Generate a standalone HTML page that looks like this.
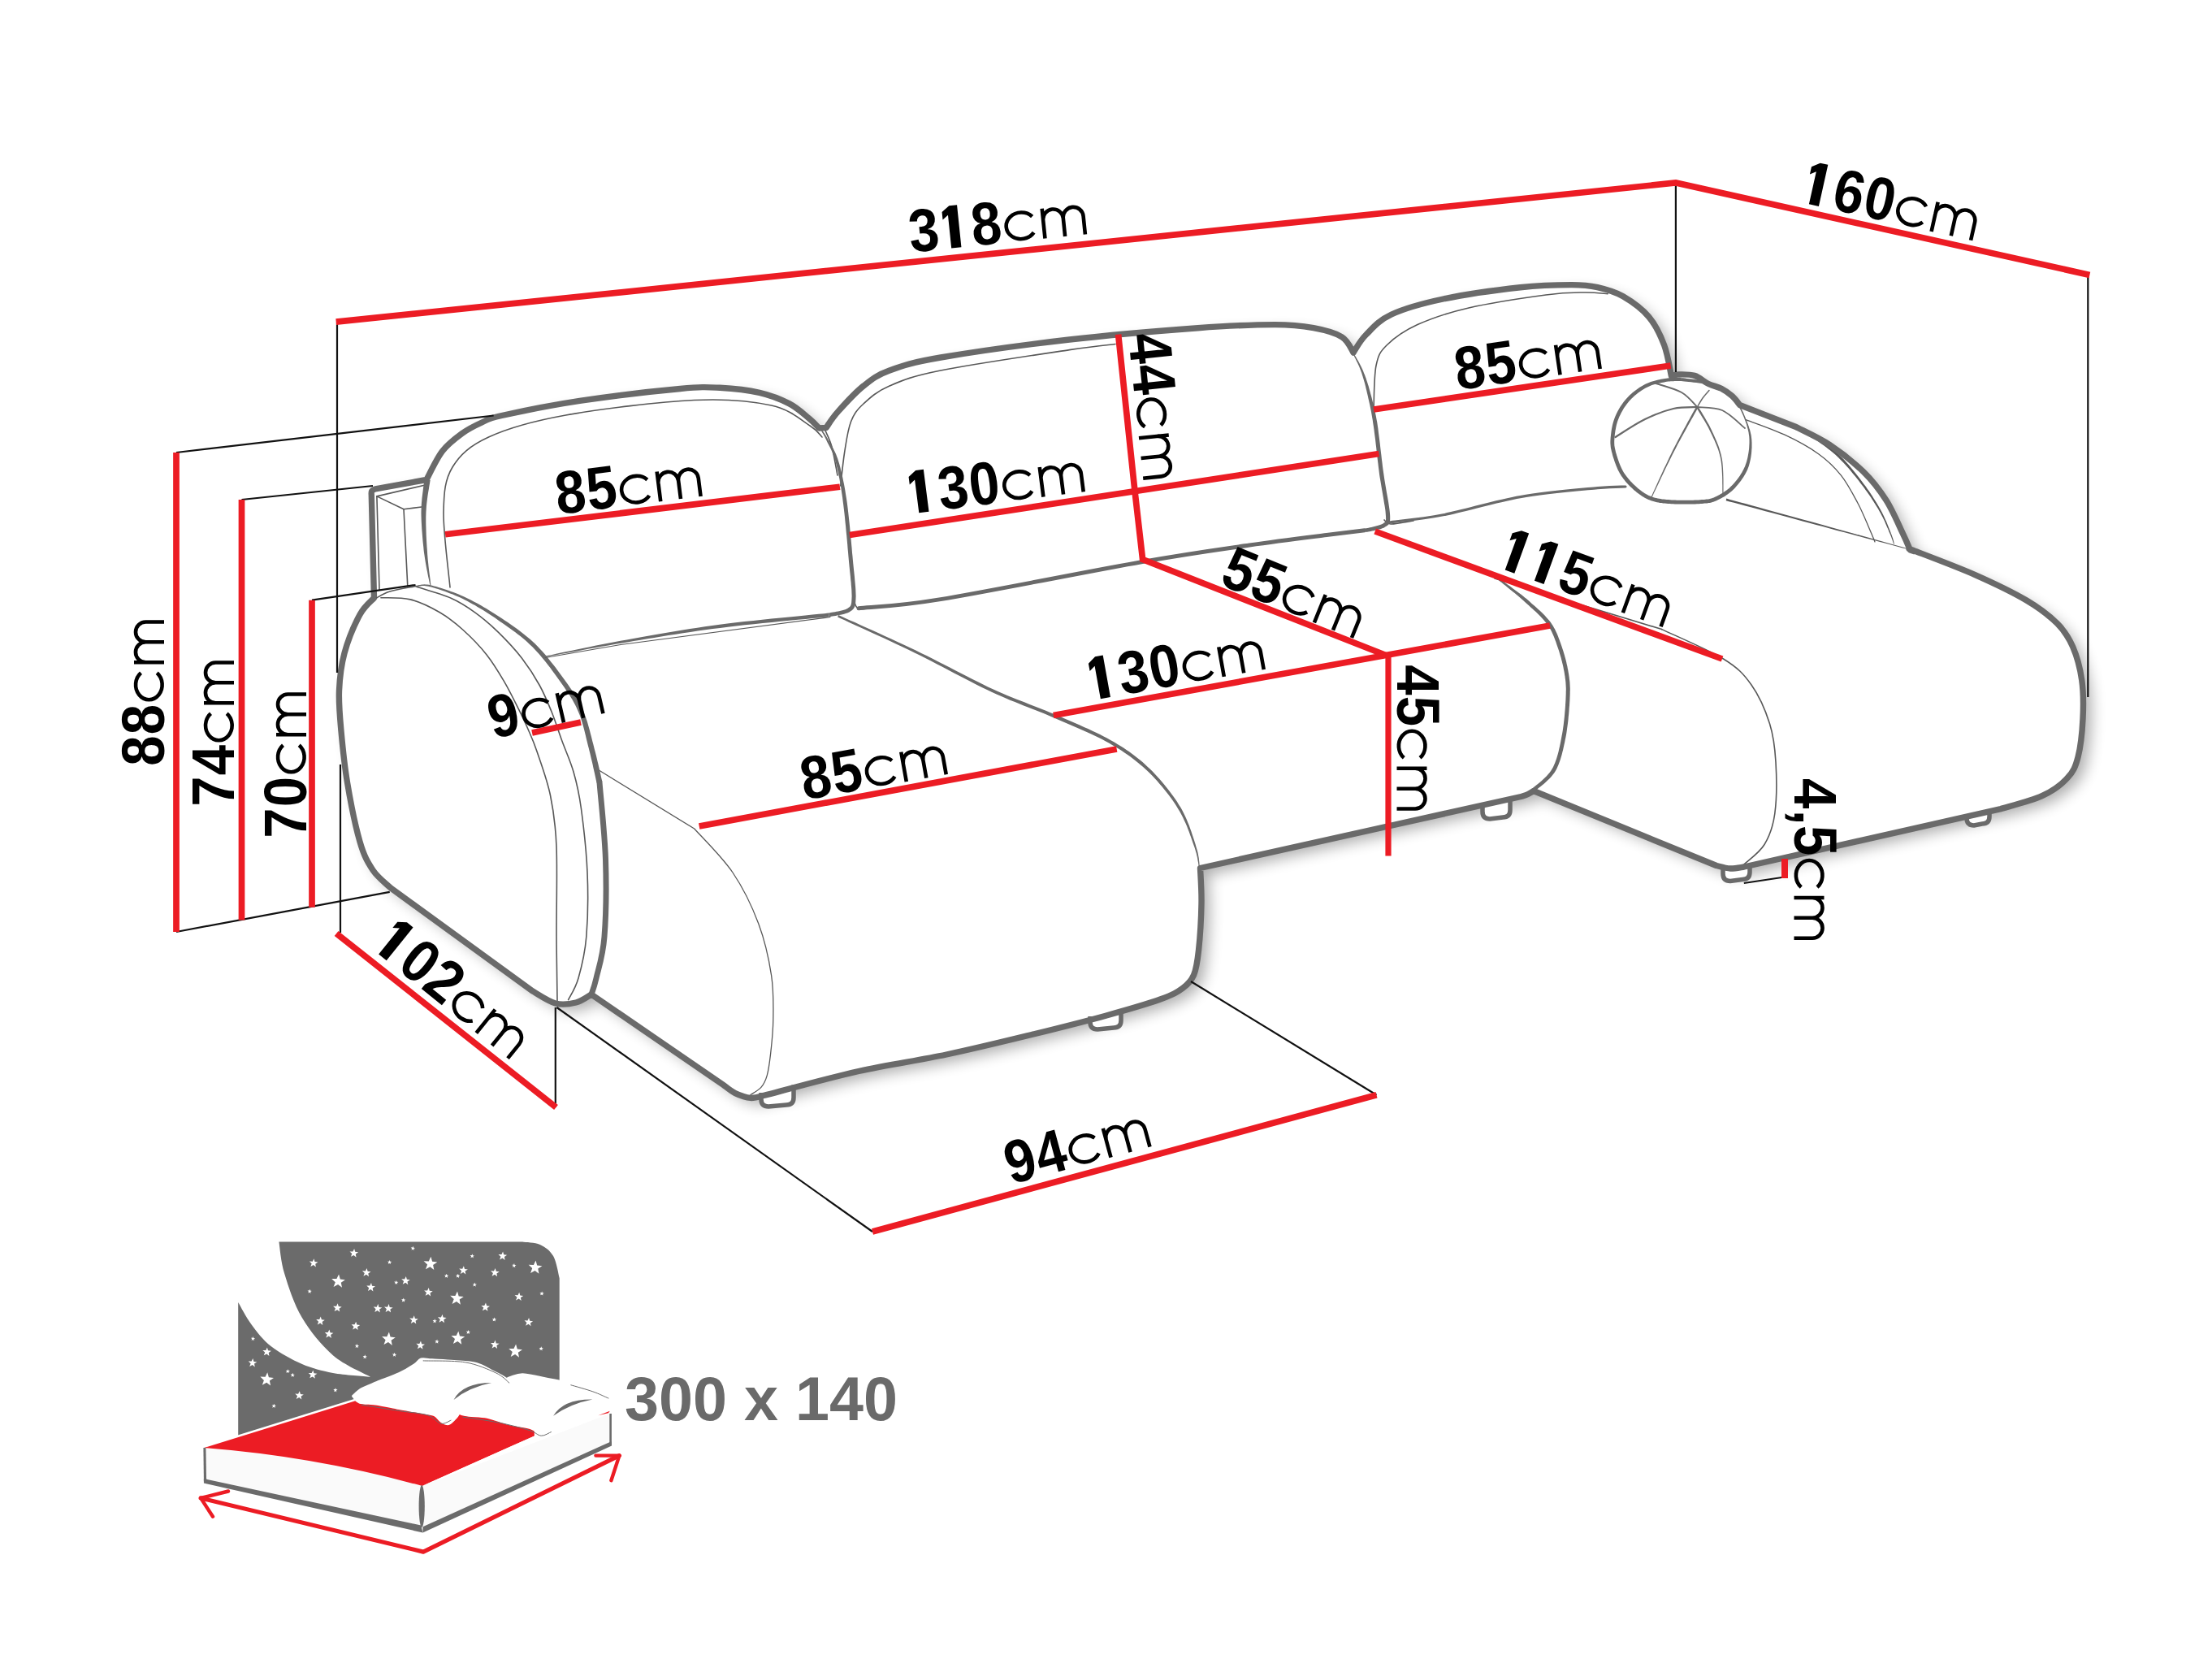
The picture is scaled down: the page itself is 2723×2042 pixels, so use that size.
<!DOCTYPE html>
<html><head><meta charset="utf-8"><title>Sofa dimensions</title>
<style>
html,body{margin:0;padding:0;background:#fff;}
body{width:2723px;height:2042px;overflow:hidden;font-family:"Liberation Sans",sans-serif;}
svg{display:block;}
text{font-family:"Liberation Sans",sans-serif;}
.b{font-weight:700;}
.r{font-weight:400;}
</style></head><body>
<svg width="2723" height="2042" viewBox="0 0 2723 2042">
<defs><filter id="sh" x="-5%" y="-5%" width="112%" height="115%"><feGaussianBlur in="SourceAlpha" stdDeviation="9"/><feOffset dx="10" dy="8"/><feComponentTransfer><feFuncA type="linear" slope="0.32"/></feComponentTransfer><feMerge><feMergeNode/><feMergeNode in="SourceGraphic"/></feMerge></filter></defs>
<path d="M460.5,736 L457.3,610 C457.4,609.1 456.8,605.9 457.6,604.5 C458.4,603.1 461.3,602.2 462,601.8 L525,590.5 C528.2,584.7 537.1,565 544.4,555.5 C551.7,546 560.7,539.4 568.8,533.5 C576.9,527.6 585.1,523.7 593.2,520 C601.4,516.3 597.4,516 617.7,511.5 C638.1,507 678.7,498.7 715.3,493.2 C751.9,487.7 808.9,481.1 837.4,478.5 C865.9,475.9 869.9,476.5 886.2,477.3 C902.5,478.1 920.8,480.1 935,483.4 C949.2,486.7 961.5,491.6 971.7,496.9 C981.9,502.2 990,510.2 996.1,515.2 C1002.2,520.2 1006.3,525 1008.3,527 L1017,526.5 C1019.4,523.2 1023.9,515.2 1031.6,506.6 C1039.3,498 1052.4,483.4 1063,475 C1073.6,466.6 1079.2,461.8 1095,456 C1110.8,450.2 1121.1,446.3 1158,440 C1194.9,433.7 1263.7,424.1 1316.5,418 C1369.3,411.9 1432.5,406.8 1474.7,403.7 C1516.9,400.6 1545.9,399.6 1569.6,399.6 C1593.3,399.6 1603.3,401.2 1617,403.7 C1630.7,406.2 1643.8,409.8 1652,414.8 C1660.2,419.9 1663.7,430.8 1666,434 C1668.6,430.3 1673.8,419.8 1681.6,412 C1689.4,404.2 1697.2,394.3 1713,387 C1728.8,379.7 1750.2,373.6 1776.6,368 C1803,362.4 1845.1,356.6 1871.5,353.7 C1897.9,350.8 1919,350.6 1934.8,350.6 C1950.6,350.6 1956,351.3 1966.5,353.7 C1977,356.1 1987.5,358.8 1998,364.8 C2008.5,370.9 2021.2,380 2029.7,390 C2038.2,400 2044.1,412.8 2048.7,425 C2053.3,437.2 2056,456.7 2057.5,463 C2058.9,462.7 2061.2,461.1 2066,461 C2070.8,460.9 2079.8,460.5 2086,462.4 C2092.2,464.3 2097.7,469.9 2103.2,472.5 C2108.7,475.1 2114.1,475.8 2119,478.3 C2123.9,480.8 2128.6,484.2 2132.4,487.6 C2136.2,491 2140.1,496.7 2141.6,498.5 L2210.9,525.5 C2217.8,529.2 2238.6,538.4 2252.5,547.6 C2266.4,556.8 2282.5,569.6 2294.1,580.9 C2305.7,592.2 2313.7,602.9 2321.8,615.6 C2329.9,628.3 2337.7,647 2342.6,657.2 C2347.5,667.4 2350,673.7 2351.5,677 L2356,678.5 C2355.9,678.3 2342.8,672.6 2355.4,677.5 C2368,682.4 2408.2,697.4 2431.4,707.6 C2454.6,717.9 2477.8,729 2494.7,739 C2511.6,749 2523.2,758.2 2532.7,767.7 C2542.2,777.2 2546.6,784.5 2551.6,796 C2556.6,807.5 2560.6,822.2 2562.7,837 C2564.8,851.8 2564.8,869 2564,884.8 C2563.2,900.6 2561.2,919.9 2558,932 C2554.8,944.1 2552.4,949.6 2545,957.6 C2537.6,965.6 2527.4,973.4 2513.7,979.7 C2500,986 2471.4,993 2463,995.6 L2147,1067 C2144.2,1067.3 2135.7,1069.2 2130,1069 C2124.3,1068.8 2115.8,1066.1 2113,1065.5 L1888,973.5 C1886.8,974.2 1883.6,976.3 1881,977.5 C1878.4,978.7 1873.9,980 1872.5,980.5 L1477.5,1068.5 C1477.8,1075.8 1479.3,1095.1 1479,1112 C1478.7,1128.9 1477.1,1155.3 1475.5,1170 C1473.9,1184.7 1472.8,1192.3 1469.6,1200 C1466.3,1207.7 1462.8,1211.3 1456,1216.3 C1449.2,1221.3 1444.7,1224.1 1428.9,1229.8 C1413.1,1235.5 1387.6,1242.9 1361.1,1250.2 C1334.6,1257.5 1302.7,1265.5 1270,1273.5 C1237.3,1281.5 1200.5,1290.5 1165,1298 C1129.5,1305.5 1094.3,1310.1 1057,1318.5 C1019.7,1326.9 960.6,1343.2 941.3,1348.2 C938.4,1348.7 929.9,1351.8 923.9,1351.4 C917.9,1351 910.6,1348.2 905.1,1345.6 C899.6,1342.9 893,1337.2 890.6,1335.5 L728,1224 C724.8,1225.7 716.4,1232.2 709,1234 C701.6,1235.8 692.8,1237.4 683.8,1235 C674.8,1232.6 659.8,1222.2 655,1219.6 L481,1093 C477.3,1089.3 465.3,1080.5 459,1071 C452.7,1061.5 448.2,1054 443,1036 C437.8,1018 431.3,985.7 427.5,963 C423.7,940.3 421.7,918.8 420,900 C418.3,881.2 416.8,866 417.5,850 C418.2,834 419.8,819.6 424,804 C428.2,788.4 436.9,767.8 443,756.5 C449.1,745.2 457.6,739.4 460.5,736 Z" fill="#fff" stroke="none" filter="url(#sh)"/>
<path d="M937,1345 L937,1353 Q937,1362 946,1362 L968,1360 Q977,1360 977,1351 L977,1335.6" fill="#fff" stroke="#6a6a6a" stroke-width="5.5"/>
<path d="M1342,1251 L1342,1258 Q1342,1267 1351,1267 L1371,1265 Q1380,1265 1380,1256 L1380,1242.1" fill="#fff" stroke="#6a6a6a" stroke-width="5.5"/>
<path d="M1825,989 L1825,999 Q1825,1008 1834,1008 L1850,1006 Q1859,1006 1859,997 L1859,981" fill="#fff" stroke="#6a6a6a" stroke-width="5.5"/>
<path d="M2121,1068 L2121,1075.5 Q2121,1084.5 2130,1084.5 L2145,1082.5 Q2154,1082.5 2154,1073.5 L2154,1064.7" fill="#fff" stroke="#6a6a6a" stroke-width="5.5"/>
<path d="M2421,1005 L2421,1007 Q2421,1016 2430,1016 L2440,1014 Q2449,1014 2449,1005 L2449,998.4" fill="#fff" stroke="#6a6a6a" stroke-width="5.5"/>
<path d="M463.9,610.9 L522.4,597.3" fill="none" stroke="#585858" stroke-width="1.6" stroke-linecap="round" stroke-linejoin="round" />
<path d="M463.9,610.9 L467,726" fill="none" stroke="#585858" stroke-width="1.6" stroke-linecap="round" stroke-linejoin="round" />
<path d="M463.9,610.9 L497,626.7 L519,624" fill="none" stroke="#585858" stroke-width="1.6" stroke-linecap="round" stroke-linejoin="round" />
<path d="M497,626.7 L501.8,721.6" fill="none" stroke="#585858" stroke-width="1.6" stroke-linecap="round" stroke-linejoin="round" />
<path d="M554,723 C552.7,707.5 545.5,654.7 546,630 C546.5,605.3 547.8,590.3 557,575 C566.2,559.7 578.2,548.7 601.5,538 C624.8,527.3 654.3,518.6 696.5,511 C738.7,503.4 812.5,494.5 854.7,492.5 C896.9,490.5 925.9,493.8 949.6,499 C973.3,504.2 986.6,517.5 997,524 C1007.4,530.5 1009.5,535.7 1012,538" fill="none" stroke="#585858" stroke-width="1.6" stroke-linecap="round" stroke-linejoin="round" />
<path d="M1034.8,598 C1035.6,591.2 1037.5,570.2 1039.6,557 C1041.7,543.8 1043.6,529 1047.5,519 C1051.4,509 1055.1,504.3 1063,497 C1070.9,489.7 1079.2,481.8 1095,475 C1110.8,468.2 1121.1,463.4 1158,456 C1194.9,448.6 1280.7,436 1316.5,430.6 C1352.3,425.2 1363.6,424.7 1373,423.5" fill="none" stroke="#585858" stroke-width="1.6" stroke-linecap="round" stroke-linejoin="round" />
<path d="M1016,530 C1017.3,533.3 1021.5,540.8 1024,550 C1026.5,559.2 1029.8,579.2 1031,585" fill="none" stroke="#585858" stroke-width="1.6" stroke-linecap="round" stroke-linejoin="round" />
<path d="M1691,503 C1691.5,494.2 1691.3,463 1694,450 C1696.7,437 1698.5,433.4 1707,425 C1715.5,416.6 1728.2,407.3 1745,399.6 C1761.8,391.9 1781.7,385.1 1808,379 C1834.3,372.9 1879.2,366.2 1903,363 C1926.8,359.8 1937.9,360.2 1950.6,360 C1963.3,359.8 1974.3,361.3 1979,361.6" fill="none" stroke="#585858" stroke-width="1.6" stroke-linecap="round" stroke-linejoin="round" />
<path d="M468.9,735.7 C474.9,736.1 493,734.9 505.1,737.9 C517.2,740.9 530.4,747.5 541.3,753.8 C552.1,760.1 560.6,766.8 570.2,775.5 C579.8,784.2 590.7,795.3 599.1,805.9 C607.5,816.5 614.3,828 620.8,839.1 C627.3,850.2 633.4,862.8 638.2,872.4 C643,882 646,888.2 649.8,897 C653.6,905.8 656.4,911.3 661,925 C665.6,938.7 673.5,959.5 677.5,979 C681.5,998.5 683.8,1013 685,1042 C686.2,1071 684.8,1121.3 685,1153 C685.2,1184.7 685.8,1218.8 686,1232" fill="none" stroke="#585858" stroke-width="1.6" stroke-linecap="round" stroke-linejoin="round" />
<path d="M512.3,722 C519.5,724.4 543.6,731.1 555.7,736.4 C567.8,741.7 575.1,746.8 584.7,753.8 C594.4,760.8 604,769 613.6,778.4 C623.2,787.8 634.1,799.4 642.5,810.2 C650.9,821.1 658.2,832.6 664.2,843.5 C670.2,854.4 674.1,864 678.7,875.3 C683.3,886.6 687.2,899 691.7,911.5 C696.2,924 702,936.1 706,950 C710,963.9 712.6,974.3 715.4,995 C718.2,1015.7 721.9,1047.7 723,1074 C724.1,1100.3 723.6,1131.3 721.8,1153 C720,1174.7 715.7,1191 712,1204 C708.3,1217 701.7,1226.2 699.6,1230.7" fill="none" stroke="#585858" stroke-width="1.6" stroke-linecap="round" stroke-linejoin="round" />
<path d="M734,946 L854.7,1020 C862.6,1029 888.8,1054.5 902,1074 C915.2,1093.5 925.9,1115.9 933.8,1137 C941.7,1158.1 946.6,1180.9 949.6,1200.6 C952.6,1220.3 952,1238.8 951.8,1255 C951.6,1271.2 949.8,1286.4 948.5,1297.9 C947.2,1309.4 946.1,1317.2 944.2,1323.9 C942.3,1330.7 940.3,1334.5 936.9,1338.4 C933.5,1342.3 926.1,1346 924,1347.5" fill="none" stroke="#585858" stroke-width="1.3" stroke-linecap="round" stroke-linejoin="round" />
<path d="M2224.8,534.4 L2225.3,534.8 L2225.8,535.1 L2226.5,535.5 L2227.2,535.9 L2227.9,536.4 L2228.7,536.9 L2229.6,537.4 L2230.6,538 L2231.6,538.6 L2232.7,539.4 L2233.9,540.1 L2235.1,541 L2236.4,542 L2237.8,543.1 L2239.4,544.2 L2241,545.4 L2242.8,546.7 L2244.7,548.1 L2246.7,549.6 L2248.7,551.1 L2250.8,552.7 L2252.9,554.3 L2255,556.1 L2257.1,557.8 L2259.2,559.6 L2261.3,561.5 L2263.4,563.4 L2265.3,565.4 L2267.3,567.4 L2269.3,569.5 L2271.4,571.7 L2273.4,574 L2275.5,576.3 L2277.6,578.7 L2279.6,581.2 L2281.6,583.7 L2283.6,586.1 L2285.6,588.6 L2287.6,591.1 L2289.4,593.5 L2291.3,595.9 L2293.1,598.3 L2294.8,600.6 L2296.5,602.9 L2298.2,605.2 L2299.8,607.5 L2301.4,609.8 L2303,612.1 L2304.5,614.4 L2306,616.7 L2307.4,618.9 L2308.8,621.2 L2310.2,623.4 L2311.5,625.6 L2312.8,627.8 L2314,629.9 L2315.2,632 L2316.3,634.2 L2317.4,636.3 L2318.5,638.5 L2319.5,640.6 L2320.5,642.8 L2321.4,644.9 L2322.3,646.9 L2323.1,648.9 L2324,650.8 L2324.7,652.6 L2325.4,654.4 L2326.1,656 L2326.8,657.5 L2327.3,658.8 L2327.8,660.1 L2328.3,661.3 L2328.7,662.4 L2329.1,663.5 L2329.4,664.4 L2329.7,665.3 L2330,666.1 L2330.2,666.9 L2330.4,667.5 L2330.6,668.2 L2330.8,668.7 L2330.9,669.3 L2331.1,669.7 L2331.9,669.5 L2331.8,669 L2331.6,668.5 L2331.5,667.9 L2331.3,667.3 L2331.2,666.6 L2331,665.8 L2330.8,665 L2330.5,664.1 L2330.2,663.1 L2329.9,662 L2329.5,660.9 L2329.1,659.7 L2328.6,658.3 L2328,656.9 L2327.5,655.4 L2326.8,653.8 L2326.1,652 L2325.4,650.2 L2324.6,648.3 L2323.8,646.3 L2323,644.2 L2322.1,642.1 L2321.1,639.9 L2320.1,637.7 L2319.1,635.5 L2318,633.3 L2316.9,631.1 L2315.8,628.9 L2314.6,626.7 L2313.3,624.5 L2312,622.3 L2310.7,620.1 L2309.3,617.8 L2307.9,615.5 L2306.4,613.2 L2304.9,610.8 L2303.4,608.5 L2301.8,606.1 L2300.2,603.8 L2298.5,601.4 L2296.9,599.1 L2295.1,596.7 L2293.4,594.4 L2291.6,591.9 L2289.7,589.5 L2287.8,587 L2285.8,584.4 L2283.8,581.9 L2281.8,579.4 L2279.7,576.9 L2277.7,574.5 L2275.6,572.1 L2273.5,569.7 L2271.5,567.5 L2269.5,565.3 L2267.5,563.2 L2265.4,561.3 L2263.3,559.3 L2261.1,557.4 L2259,555.6 L2256.8,553.8 L2254.6,552.1 L2252.5,550.5 L2250.4,548.9 L2248.3,547.4 L2246.3,545.9 L2244.4,544.5 L2242.6,543.3 L2240.9,542.1 L2239.4,540.9 L2237.9,540 L2236.5,539.1 L2235.1,538.2 L2233.8,537.5 L2232.6,536.9 L2231.5,536.3 L2230.5,535.8 L2229.5,535.4 L2228.6,535 L2227.8,534.6 L2227.1,534.3 L2226.4,534.1 L2225.8,533.8 L2225.2,533.6 Z" fill="#585858"/>
<path d="M2148.5,516.4 C2156.6,519.5 2182,528.2 2197,535.2 C2212,542.2 2227,550.4 2238.6,558.7 C2250.2,567 2258.3,574.9 2266.4,585.1 C2274.5,595.3 2281.4,608.9 2287.2,619.7 C2293,630.6 2297.5,642.3 2301,650.2 C2304.5,658.1 2306.8,664.1 2308,666.9" fill="none" stroke="#585858" stroke-width="1.3" stroke-linecap="round" stroke-linejoin="round" />
<path d="M2124.7,616.2 L2129.2,617.4 L2134.7,618.8 L2141.1,620.5 L2148.3,622.5 L2156.1,624.6 L2164.5,626.8 L2173.3,629.2 L2182.3,631.6 L2191.5,634.1 L2200.8,636.6 L2209.9,639 L2218.9,641.4 L2227.5,643.8 L2235.7,646 L2243.9,648.1 L2252.6,650.5 L2261.5,652.9 L2270.7,655.3 L2279.9,657.8 L2289.1,660.2 L2298.2,662.7 L2306.9,665 L2315.3,667.2 L2323.1,669.3 L2330.3,671.2 L2336.7,672.9 L2342.2,674.4 L2346.7,675.6 L2346.9,674.8 L2342.4,673.5 L2336.9,672 L2330.5,670.2 L2323.4,668.2 L2315.6,666 L2307.3,663.7 L2298.5,661.3 L2289.5,658.8 L2280.3,656.3 L2271.1,653.7 L2262,651.2 L2253,648.7 L2244.4,646.3 L2236.3,644 L2228.1,641.8 L2219.5,639.4 L2210.5,637 L2201.3,634.5 L2192.1,631.9 L2182.9,629.4 L2173.9,627 L2165.1,624.6 L2156.8,622.3 L2148.9,620.1 L2141.8,618.2 L2135.4,616.4 L2129.8,614.9 L2125.3,613.6 Z" fill="#585858"/>
<path d="M2045.6,774.6 C2058.2,780.7 2103.1,799.6 2121.5,811 C2139.9,822.4 2146.5,829.7 2156,843 C2165.5,856.3 2173.5,875 2178.5,890.8 C2183.5,906.6 2184.9,919.5 2186,938 C2187.1,956.5 2187.1,984.6 2184.8,1001.5 C2182.5,1018.4 2178.3,1029.1 2172,1039.5 C2165.7,1049.9 2151,1059.9 2146.8,1064" fill="none" stroke="#585858" stroke-width="1.6" stroke-linecap="round" stroke-linejoin="round" />
<path d="M1840,712 L2045.6,774.6" fill="none" stroke="#585858" stroke-width="1.6" stroke-linecap="round" stroke-linejoin="round" />
<path d="M1052,742 C1052.8,743.2 1053.2,748 1057,749 C1060.8,750 1058.2,749.8 1075,748 C1091.8,746.2 1144.2,739.7 1158,738" fill="none" stroke="#585858" stroke-width="1.6" stroke-linecap="round" stroke-linejoin="round" />
<path d="M1704,640 C1705.3,640.8 1706,644.8 1712,645 C1718,645.2 1735.3,641.7 1740,641" fill="none" stroke="#585858" stroke-width="1.6" stroke-linecap="round" stroke-linejoin="round" />
<path d="M1031.1,759.4 L1034.9,761.2 L1039.6,763.3 L1045.1,765.9 L1051.2,768.7 L1057.9,771.7 L1065.1,775 L1072.6,778.4 L1080.3,782 L1088.2,785.6 L1096.1,789.3 L1103.9,792.9 L1111.5,796.5 L1118.9,800.1 L1125.9,803.4 L1132.7,806.8 L1139.6,810.3 L1146.5,813.8 L1153.5,817.4 L1160.5,821 L1167.5,824.7 L1174.5,828.4 L1181.4,832 L1188.2,835.5 L1195,839 L1201.6,842.4 L1208.1,845.7 L1214.5,848.8 L1220.7,851.7 L1226.7,854.5 L1232.6,857.1 L1238.3,859.5 L1243.9,861.9 L1249.4,864.1 L1254.8,866.3 L1260.1,868.4 L1265.4,870.4 L1270.5,872.4 L1275.7,874.5 L1280.8,876.5 L1285.9,878.6 L1291,880.7 L1296.2,882.9 L1301.4,885.2 L1306.6,887.4 L1311.9,889.7 L1317.1,891.9 L1322.3,894.2 L1327.5,896.4 L1332.6,898.7 L1337.7,901 L1342.7,903.2 L1347.5,905.5 L1352.2,907.8 L1356.8,910.1 L1361.2,912.5 L1365.5,914.8 L1369.5,917.2 L1373.4,919.5 L1377.2,921.8 L1380.8,924.1 L1384.3,926.4 L1387.7,928.7 L1391,931.1 L1394.2,933.4 L1397.4,935.9 L1400.5,938.4 L1403.5,940.9 L1406.6,943.6 L1409.6,946.3 L1412.6,949.1 L1415.7,952.1 L1418.7,955.1 L1421.7,958.3 L1424.7,961.6 L1427.6,964.9 L1430.5,968.3 L1433.3,971.7 L1436.1,975.2 L1438.7,978.6 L1441.3,982.1 L1443.8,985.6 L1446.2,989.1 L1448.4,992.5 L1450.5,995.9 L1452.5,999.3 L1454.4,1002.7 L1456.2,1006.3 L1457.9,1009.9 L1459.6,1013.5 L1461.1,1017.1 L1462.5,1020.7 L1463.9,1024.3 L1465.1,1027.7 L1466.3,1031.1 L1467.4,1034.3 L1468.5,1037.4 L1469.5,1040.3 L1470.5,1043 L1471.3,1045.6 L1472,1048 L1472.7,1050.3 L1473.2,1052.5 L1473.7,1054.6 L1474.1,1056.6 L1474.4,1058.4 L1474.7,1060.2 L1475,1061.8 L1475.2,1063.3 L1475.4,1064.7 L1475.6,1066 L1475.8,1067.1 L1476,1068.1 L1477,1067.9 L1476.9,1066.9 L1476.8,1065.8 L1476.6,1064.6 L1476.5,1063.2 L1476.4,1061.7 L1476.2,1060 L1476,1058.2 L1475.8,1056.3 L1475.4,1054.3 L1475,1052.1 L1474.6,1049.8 L1474,1047.4 L1473.3,1045 L1472.5,1042.4 L1471.7,1039.6 L1470.8,1036.7 L1469.8,1033.6 L1468.7,1030.3 L1467.6,1026.9 L1466.4,1023.3 L1465.1,1019.7 L1463.8,1016.1 L1462.3,1012.4 L1460.7,1008.6 L1459.1,1004.9 L1457.3,1001.3 L1455.4,997.6 L1453.5,994.1 L1451.3,990.7 L1449.1,987.1 L1446.7,983.6 L1444.2,980 L1441.6,976.5 L1439,972.9 L1436.2,969.4 L1433.4,965.9 L1430.5,962.4 L1427.5,959 L1424.5,955.7 L1421.5,952.4 L1418.5,949.3 L1415.4,946.3 L1412.3,943.4 L1409.2,940.6 L1406.2,937.8 L1403.1,935.2 L1399.9,932.7 L1396.7,930.2 L1393.4,927.7 L1390.1,925.3 L1386.6,923 L1383.1,920.6 L1379.4,918.3 L1375.6,915.9 L1371.7,913.6 L1367.5,911.2 L1363.2,908.8 L1358.7,906.4 L1354.1,904.1 L1349.3,901.7 L1344.4,899.4 L1339.4,897.1 L1334.4,894.9 L1329.2,892.6 L1324,890.3 L1318.8,888.1 L1313.5,885.8 L1308.3,883.6 L1303,881.3 L1297.8,879.1 L1292.6,876.9 L1287.5,874.8 L1282.3,872.7 L1277.2,870.7 L1272,868.7 L1266.8,866.7 L1261.6,864.6 L1256.3,862.6 L1250.9,860.5 L1245.4,858.3 L1239.8,856 L1234.1,853.5 L1228.3,851 L1222.3,848.3 L1216.1,845.4 L1209.8,842.3 L1203.3,839.1 L1196.6,835.8 L1189.9,832.3 L1183,828.8 L1176.1,825.2 L1169.1,821.6 L1162.1,818 L1155.1,814.4 L1148,810.8 L1141.1,807.3 L1134.1,803.9 L1127.3,800.6 L1120.3,797.2 L1112.9,793.7 L1105.2,790.2 L1097.3,786.5 L1089.4,782.9 L1081.5,779.3 L1073.8,775.8 L1066.3,772.4 L1059.1,769.2 L1052.4,766.1 L1046.2,763.4 L1040.7,760.9 L1036,758.8 L1032.1,757 Z" fill="#6a6a6a"/>
<path d="M1833.4,705.3 L1834.1,705.9 L1834.9,706.6 L1835.9,707.4 L1837,708.2 L1838.2,709.1 L1839.5,710.1 L1840.9,711.2 L1842.4,712.3 L1843.9,713.4 L1845.4,714.6 L1847,715.9 L1848.6,717.1 L1850.2,718.4 L1851.8,719.7 L1853.5,721.1 L1855.2,722.5 L1857,723.9 L1858.8,725.4 L1860.7,726.9 L1862.6,728.5 L1864.6,730.1 L1866.6,731.7 L1868.5,733.3 L1870.5,735 L1872.5,736.7 L1874.5,738.5 L1876.4,740.2 L1878.3,742 L1880.3,743.7 L1882.3,745.6 L1884.3,747.4 L1886.4,749.3 L1888.5,751.2 L1890.6,753.1 L1892.6,755.1 L1894.6,757 L1896.6,759 L1898.4,761 L1900.2,763 L1901.9,765 L1903.5,766.9 L1904.9,768.9 L1906.3,770.9 L1907.5,772.8 L1908.7,774.8 L1909.8,776.8 L1910.8,778.9 L1911.7,780.9 L1912.6,783 L1913.4,785.1 L1914.2,787.2 L1915,789.3 L1915.8,791.5 L1916.5,793.7 L1917.3,795.9 L1918,798.1 L1918.8,800.3 L1919.5,802.6 L1920.2,804.9 L1920.9,807.2 L1921.6,809.6 L1922.2,811.9 L1922.8,814.3 L1923.4,816.7 L1924,819 L1924.5,821.4 L1924.9,823.7 L1925.4,826 L1925.8,828.2 L1926.1,830.4 L1926.5,832.5 L1926.7,834.5 L1927,836.4 L1927.2,838.3 L1927.4,840.1 L1927.5,841.9 L1927.6,843.7 L1927.7,845.5 L1927.8,847.5 L1927.8,849.5 L1927.7,851.6 L1927.7,853.8 L1927.6,856.3 L1927.5,858.9 L1927.4,861.7 L1927.2,864.7 L1927,867.9 L1926.8,871.3 L1926.5,874.7 L1926.2,878.2 L1925.9,881.8 L1925.5,885.4 L1925.1,889 L1924.7,892.6 L1924.2,896.1 L1923.7,899.6 L1923.1,902.9 L1922.5,906.1 L1921.9,909.3 L1921.3,912.5 L1920.7,915.6 L1920,918.7 L1919.3,921.8 L1918.6,924.9 L1917.8,927.9 L1917,930.8 L1916.1,933.7 L1915.1,936.5 L1914.1,939.2 L1913,941.7 L1911.9,944.2 L1910.6,946.5 L1909.2,948.7 L1907.6,950.9 L1905.8,953.1 L1903.9,955.2 L1901.8,957.3 L1899.7,959.3 L1897.6,961.2 L1895.5,963 L1893.4,964.7 L1891.4,966.3 L1889.6,967.8 L1888,969.1 L1886.6,970.3 L1885.5,971.4 L1888.5,974.6 L1889.5,973.7 L1890.9,972.6 L1892.5,971.3 L1894.3,969.8 L1896.3,968.2 L1898.4,966.5 L1900.6,964.7 L1902.8,962.7 L1905.1,960.6 L1907.3,958.4 L1909.4,956.2 L1911.4,953.8 L1913.2,951.4 L1914.8,948.9 L1916.2,946.4 L1917.4,943.7 L1918.6,941 L1919.7,938.1 L1920.7,935.2 L1921.6,932.2 L1922.5,929.2 L1923.3,926.1 L1924.1,923 L1924.8,919.8 L1925.5,916.6 L1926.2,913.4 L1926.8,910.3 L1927.5,907.1 L1928.1,903.8 L1928.6,900.4 L1929.1,896.8 L1929.6,893.2 L1930.1,889.6 L1930.5,885.9 L1930.8,882.3 L1931.2,878.7 L1931.5,875.1 L1931.7,871.6 L1932,868.3 L1932.2,865 L1932.4,862 L1932.5,859.1 L1932.6,856.5 L1932.7,854 L1932.7,851.7 L1932.8,849.5 L1932.8,847.4 L1932.7,845.4 L1932.6,843.4 L1932.5,841.5 L1932.4,839.6 L1932.2,837.7 L1931.9,835.8 L1931.7,833.8 L1931.4,831.8 L1931.1,829.6 L1930.7,827.4 L1930.3,825 L1929.8,822.7 L1929.4,820.3 L1928.8,817.9 L1928.3,815.5 L1927.7,813.1 L1927.1,810.7 L1926.4,808.3 L1925.7,805.8 L1925,803.5 L1924.3,801.1 L1923.5,798.8 L1922.8,796.5 L1922,794.3 L1921.2,792.1 L1920.4,789.8 L1919.7,787.7 L1918.8,785.5 L1918,783.3 L1917.1,781.1 L1916.2,778.9 L1915.1,776.8 L1914.1,774.6 L1912.9,772.5 L1911.7,770.3 L1910.3,768.2 L1908.9,766.1 L1907.3,764 L1905.5,761.9 L1903.7,759.9 L1901.8,757.8 L1899.8,755.8 L1897.8,753.8 L1895.7,751.8 L1893.6,749.9 L1891.5,747.9 L1889.3,746 L1887.2,744.2 L1885.1,742.4 L1883.1,740.6 L1881.1,738.8 L1879.1,737.1 L1877,735.4 L1875,733.8 L1872.9,732.1 L1870.8,730.5 L1868.7,728.9 L1866.7,727.4 L1864.6,725.9 L1862.6,724.4 L1860.7,722.9 L1858.8,721.6 L1856.9,720.2 L1855.1,718.9 L1853.4,717.7 L1851.7,716.5 L1850,715.3 L1848.3,714.1 L1846.6,713 L1845,711.9 L1843.4,710.8 L1841.9,709.8 L1840.4,708.9 L1839.1,708 L1837.8,707.1 L1836.6,706.4 L1835.6,705.7 L1834.6,705.2 L1833.8,704.7 Z" fill="#6a6a6a"/>
<path d="M1666.5,437.3 L1666.8,438 L1667.2,438.9 L1667.7,439.9 L1668.3,441 L1668.9,442.2 L1669.5,443.5 L1670.2,444.9 L1670.9,446.3 L1671.6,447.8 L1672.3,449.3 L1673,450.8 L1673.7,452.4 L1674.3,453.9 L1674.9,455.4 L1675.4,457 L1676,458.5 L1676.5,460.1 L1677,461.7 L1677.5,463.3 L1678,464.9 L1678.5,466.6 L1679,468.3 L1679.6,470.2 L1680.1,472 L1680.6,474 L1681.1,476.1 L1681.6,478.2 L1682.2,480.5 L1682.7,482.8 L1683.3,485.2 L1683.9,487.7 L1684.4,490.2 L1685,492.7 L1685.6,495.4 L1686.2,498.1 L1686.8,500.9 L1687.4,503.9 L1688,506.9 L1688.5,510.1 L1689.1,513.4 L1689.7,516.8 L1690.2,520.4 L1690.8,524.2 L1691.4,528.2 L1691.9,532.5 L1692.5,537 L1693.1,541.6 L1693.6,546.3 L1694.2,551.1 L1694.7,555.9 L1695.3,560.8 L1695.8,565.5 L1696.4,570.2 L1696.9,574.8 L1697.5,579.2 L1698,583.4 L1698.6,587.5 L1699.3,591.6 L1700,595.8 L1700.7,600 L1701.4,604.1 L1702.1,608.1 L1702.8,612 L1703.4,615.8 L1704,619.4 L1704.6,622.8 L1705.1,626 L1705.5,629 L1705.7,631.6 L1705.9,634 L1706,636 L1706.1,637.7 L1706.1,639.1 L1706,640.2 L1705.9,641 L1705.8,641.5 L1705.7,641.9 L1705.6,642 L1705.5,642.2 L1705.2,642.5 L1704.7,642.8 L1704.1,643.3 L1703.3,643.8 L1702.5,644.4 L1701.5,645 L1700.4,645.5 L1699,646.1 L1697.4,646.6 L1695.6,647.1 L1693.8,647.6 L1691.9,648.1 L1690,648.5 L1688.1,649 L1686.4,649.3 L1684.7,649.7 L1683.3,650 L1682,650.3 L1681,650.6 L1682.2,655 L1683.1,654.8 L1684.3,654.6 L1685.7,654.3 L1687.3,654 L1689.1,653.6 L1691,653.2 L1692.9,652.8 L1694.9,652.3 L1696.9,651.8 L1698.8,651.3 L1700.6,650.7 L1702.3,650.1 L1703.9,649.4 L1705.1,648.6 L1706.1,648 L1706.9,647.4 L1707.6,647 L1708.4,646.4 L1709.1,645.8 L1709.8,645 L1710.3,644 L1710.7,643 L1711,641.8 L1711.1,640.6 L1711.2,639.2 L1711.2,637.6 L1711.2,635.8 L1711.1,633.6 L1710.9,631.1 L1710.6,628.3 L1710.2,625.3 L1709.7,622 L1709.2,618.5 L1708.6,614.9 L1707.9,611.1 L1707.2,607.2 L1706.5,603.2 L1705.8,599.1 L1705.1,595 L1704.4,590.8 L1703.8,586.7 L1703.2,582.6 L1702.6,578.5 L1702,574.1 L1701.5,569.6 L1700.9,564.9 L1700.4,560.2 L1699.8,555.4 L1699.2,550.5 L1698.7,545.7 L1698.1,541 L1697.5,536.4 L1696.9,531.9 L1696.4,527.6 L1695.8,523.5 L1695.2,519.6 L1694.5,516 L1693.9,512.5 L1693.2,509.2 L1692.5,506 L1691.9,502.9 L1691.2,500 L1690.5,497.1 L1689.8,494.4 L1689.1,491.7 L1688.5,489.2 L1687.8,486.7 L1687.1,484.2 L1686.5,481.9 L1685.8,479.5 L1685.2,477.3 L1684.6,475.1 L1683.9,473 L1683.3,471.1 L1682.7,469.2 L1682.1,467.4 L1681.5,465.6 L1680.9,464 L1680.3,462.3 L1679.7,460.7 L1679,459.2 L1678.4,457.6 L1677.8,456.1 L1677.1,454.6 L1676.4,453 L1675.7,451.4 L1674.9,449.9 L1674.2,448.4 L1673.4,446.9 L1672.6,445.4 L1671.8,444 L1671,442.7 L1670.3,441.4 L1669.6,440.3 L1669,439.2 L1668.4,438.2 L1667.9,437.4 L1667.5,436.7 Z" fill="#6a6a6a"/>
<path d="M1710,643 C1721.1,641.5 1749.7,639 1776.6,633.8 C1803.5,628.6 1839.8,617.1 1871.5,611.6 C1903.2,606.1 1944.9,602.7 1966.5,600.6 C1988.1,598.5 1995.2,599.3 2001,599" fill="none" stroke="#6a6a6a" stroke-width="3.2" stroke-linecap="round" stroke-linejoin="round" />
<path d="M2070,467 C2076.7,468.2 2099,469.7 2110,474 C2121,478.3 2129.3,485.3 2136,493 C2142.7,500.7 2146.8,511.3 2150,520 C2153.2,528.7 2155,535.8 2155,545 C2155,554.2 2153.7,565.8 2150,575 C2146.3,584.2 2139.3,593.5 2133,600 C2126.7,606.5 2118.3,611.1 2112,614 C2105.7,616.9 2103.3,616.8 2095,617.5 C2086.7,618.2 2072,618.5 2062,618 C2052,617.5 2042.8,617 2035,614.5 C2027.2,612 2021.3,608.2 2015,603 C2008.7,597.8 2001.7,590.5 1997,583 C1992.3,575.5 1989,565.2 1987,558 C1985,550.8 1984.5,547.2 1985,540 C1985.5,532.8 1986.8,523 1990,515 C1993.2,507 1998,498.7 2004,492 C2010,485.3 2018.3,479 2026,475 C2033.7,471 2042.7,469.3 2050,468 C2057.3,466.7 2066.7,467.2 2070,467 Z" fill="#fff"/>
<path d="M2069.7,469 L2071.4,469.2 L2073.5,469.5 L2076,469.7 L2078.7,470 L2081.7,470.3 L2084.8,470.7 L2088.1,471.1 L2091.5,471.5 L2094.8,472 L2098.1,472.6 L2101.3,473.2 L2104.2,473.9 L2107,474.7 L2109.4,475.5 L2111.7,476.4 L2113.9,477.3 L2116,478.4 L2118.1,479.5 L2120.1,480.7 L2122,481.9 L2123.9,483.2 L2125.7,484.6 L2127.5,486 L2129.2,487.4 L2130.8,488.9 L2132.4,490.4 L2133.9,491.9 L2135.4,493.5 L2136.8,495.2 L2138.1,496.9 L2139.3,498.7 L2140.5,500.6 L2141.6,502.5 L2142.6,504.5 L2143.6,506.5 L2144.5,508.5 L2145.4,510.5 L2146.3,512.5 L2147.1,514.5 L2147.8,516.5 L2148.6,518.4 L2149.2,520.3 L2149.9,522.1 L2150.4,523.9 L2150.9,525.7 L2151.4,527.4 L2151.8,529.1 L2152.2,530.8 L2152.6,532.6 L2152.8,534.3 L2153.1,536 L2153.3,537.7 L2153.4,539.5 L2153.5,541.3 L2153.5,543.1 L2153.5,545 L2153.4,547 L2153.3,549 L2153.2,551.1 L2153,553.2 L2152.7,555.4 L2152.4,557.5 L2152,559.7 L2151.6,561.9 L2151.2,564.1 L2150.6,566.2 L2150.1,568.3 L2149.4,570.3 L2148.7,572.3 L2148,574.2 L2147.1,576.1 L2146.2,577.9 L2145.2,579.8 L2144.2,581.7 L2143,583.5 L2141.9,585.4 L2140.6,587.2 L2139.3,588.9 L2138,590.7 L2136.7,592.3 L2135.3,593.9 L2134,595.5 L2132.6,596.9 L2131.3,598.3 L2130,599.6 L2128.6,600.9 L2127.2,602.1 L2125.7,603.2 L2124.2,604.3 L2122.7,605.3 L2121.2,606.3 L2119.7,607.3 L2118.2,608.1 L2116.7,609 L2115.2,609.8 L2113.8,610.5 L2112.3,611.2 L2111,611.8 L2109.8,612.4 L2108.6,612.8 L2107.6,613.2 L2106.6,613.6 L2105.7,613.8 L2104.8,614 L2103.8,614.2 L2102.9,614.4 L2101.8,614.5 L2100.7,614.6 L2099.4,614.7 L2098,614.9 L2096.5,615 L2094.8,615.1 L2093,615.2 L2090.9,615.4 L2088.8,615.5 L2086.5,615.6 L2084.1,615.7 L2081.6,615.7 L2079.1,615.8 L2076.5,615.8 L2074,615.8 L2071.5,615.8 L2069,615.8 L2066.6,615.8 L2064.3,615.7 L2062.1,615.6 L2060,615.5 L2057.9,615.4 L2055.8,615.3 L2053.8,615.1 L2051.8,615 L2049.9,614.8 L2048,614.6 L2046.1,614.4 L2044.2,614.1 L2042.5,613.8 L2040.7,613.5 L2039,613.1 L2037.3,612.7 L2035.7,612.2 L2034.2,611.7 L2032.6,611.1 L2031.2,610.5 L2029.7,609.9 L2028.3,609.2 L2027,608.5 L2025.7,607.7 L2024.3,606.9 L2023,606.1 L2021.7,605.2 L2020.5,604.2 L2019.2,603.3 L2017.9,602.2 L2016.5,601.2 L2015.2,600 L2013.9,598.8 L2012.5,597.6 L2011.1,596.3 L2009.8,595 L2008.5,593.6 L2007.1,592.2 L2005.9,590.8 L2004.6,589.3 L2003.4,587.8 L2002.2,586.3 L2001.1,584.8 L2000,583.3 L1999,581.7 L1998.1,580.2 L1997.2,578.5 L1996.3,576.8 L1995.5,575 L1994.7,573.2 L1994,571.4 L1993.2,569.5 L1992.6,567.7 L1991.9,565.8 L1991.3,564 L1990.8,562.3 L1990.2,560.6 L1989.8,558.9 L1989.3,557.4 L1988.9,555.9 L1988.6,554.5 L1988.3,553.3 L1988,552.1 L1987.8,550.9 L1987.6,549.8 L1987.4,548.7 L1987.3,547.6 L1987.3,546.5 L1987.2,545.4 L1987.2,544.2 L1987.2,543 L1987.3,541.6 L1987.4,540.2 L1987.5,538.6 L1987.7,537 L1987.8,535.3 L1988,533.6 L1988.3,531.8 L1988.5,530.1 L1988.9,528.2 L1989.2,526.4 L1989.6,524.6 L1990,522.8 L1990.5,521 L1991,519.3 L1991.6,517.5 L1992.2,515.9 L1992.9,514.2 L1993.6,512.5 L1994.4,510.9 L1995.2,509.2 L1996.1,507.5 L1997,505.9 L1998,504.2 L1998.9,502.6 L2000,501 L2001.1,499.4 L2002.2,497.9 L2003.3,496.4 L2004.5,494.9 L2005.7,493.5 L2007,492.2 L2008.3,490.8 L2009.7,489.4 L2011.2,488.1 L2012.6,486.8 L2014.2,485.5 L2015.7,484.3 L2017.3,483.1 L2018.9,481.9 L2020.6,480.8 L2022.2,479.8 L2023.8,478.8 L2025.4,477.8 L2027,477 L2028.6,476.2 L2030.2,475.4 L2031.9,474.8 L2033.5,474.1 L2035.2,473.6 L2037,473.1 L2038.7,472.6 L2040.4,472.1 L2042.1,471.7 L2043.8,471.4 L2045.5,471 L2047.2,470.7 L2048.8,470.4 L2050.4,470.1 L2051.9,469.8 L2053.5,469.6 L2055.1,469.4 L2056.7,469.3 L2058.4,469.2 L2060,469.2 L2061.5,469.1 L2063.1,469.1 L2064.5,469.1 L2065.9,469.1 L2067.1,469.1 L2068.2,469.1 L2069.2,469 L2070.1,469 L2069.9,465 L2069.2,465 L2068.2,465 L2067.1,465 L2065.9,465 L2064.5,465 L2063,465 L2061.5,465 L2059.8,465 L2058.2,465.1 L2056.5,465.2 L2054.7,465.3 L2053,465.5 L2051.3,465.7 L2049.6,465.9 L2048,466.2 L2046.4,466.5 L2044.7,466.8 L2042.9,467.2 L2041.2,467.6 L2039.4,468 L2037.6,468.4 L2035.8,468.9 L2033.9,469.5 L2032.1,470 L2030.3,470.7 L2028.5,471.4 L2026.7,472.2 L2025,473 L2023.3,474 L2021.6,474.9 L2019.8,476 L2018.1,477.1 L2016.4,478.3 L2014.7,479.5 L2013,480.7 L2011.3,482 L2009.7,483.3 L2008.1,484.7 L2006.6,486.1 L2005.1,487.5 L2003.7,489 L2002.3,490.5 L2001,492 L1999.7,493.5 L1998.5,495.1 L1997.3,496.7 L1996.1,498.4 L1995,500.1 L1993.9,501.8 L1992.9,503.5 L1991.9,505.3 L1991,507 L1990.1,508.8 L1989.3,510.6 L1988.5,512.3 L1987.8,514.1 L1987.1,515.9 L1986.5,517.8 L1985.9,519.7 L1985.4,521.6 L1984.9,523.5 L1984.5,525.5 L1984.1,527.4 L1983.8,529.3 L1983.5,531.2 L1983.3,533 L1983.1,534.8 L1982.9,536.5 L1982.7,538.2 L1982.6,539.8 L1982.5,541.4 L1982.4,542.8 L1982.4,544.2 L1982.4,545.5 L1982.5,546.8 L1982.6,548 L1982.7,549.3 L1982.8,550.5 L1983,551.8 L1983.3,553 L1983.6,554.3 L1983.9,555.7 L1984.3,557.1 L1984.7,558.6 L1985.1,560.2 L1985.6,561.9 L1986.2,563.7 L1986.8,565.5 L1987.4,567.4 L1988,569.3 L1988.8,571.2 L1989.5,573.2 L1990.3,575.1 L1991.1,577 L1992,578.9 L1993,580.7 L1993.9,582.5 L1995,584.3 L1996,585.9 L1997.2,587.6 L1998.4,589.2 L1999.6,590.8 L2000.9,592.4 L2002.2,594 L2003.6,595.5 L2005,596.9 L2006.4,598.4 L2007.8,599.8 L2009.2,601.1 L2010.7,602.4 L2012.1,603.7 L2013.5,604.8 L2014.8,606 L2016.2,607.1 L2017.6,608.1 L2019,609.1 L2020.4,610.1 L2021.8,611 L2023.2,611.8 L2024.7,612.7 L2026.2,613.5 L2027.7,614.2 L2029.3,614.9 L2030.9,615.6 L2032.5,616.2 L2034.3,616.8 L2036.1,617.3 L2037.9,617.8 L2039.7,618.2 L2041.6,618.6 L2043.5,618.9 L2045.5,619.1 L2047.4,619.4 L2049.4,619.6 L2051.4,619.8 L2053.5,619.9 L2055.5,620.1 L2057.6,620.2 L2059.7,620.3 L2061.9,620.4 L2064.1,620.5 L2066.5,620.6 L2068.9,620.6 L2071.4,620.6 L2074,620.6 L2076.6,620.6 L2079.2,620.6 L2081.7,620.5 L2084.2,620.5 L2086.7,620.4 L2089,620.3 L2091.2,620.2 L2093.3,620 L2095.2,619.9 L2096.9,619.8 L2098.4,619.6 L2099.8,619.5 L2101.1,619.4 L2102.4,619.3 L2103.5,619.1 L2104.7,619 L2105.8,618.7 L2106.9,618.5 L2108,618.1 L2109.2,617.8 L2110.4,617.3 L2111.7,616.8 L2113,616.2 L2114.4,615.5 L2115.9,614.8 L2117.4,614 L2119,613.2 L2120.6,612.3 L2122.2,611.4 L2123.8,610.4 L2125.4,609.3 L2127,608.2 L2128.6,607 L2130.2,605.8 L2131.8,604.5 L2133.3,603.1 L2134.7,601.7 L2136.1,600.2 L2137.5,598.6 L2138.9,597 L2140.3,595.3 L2141.7,593.5 L2143.1,591.7 L2144.4,589.8 L2145.7,587.9 L2146.9,585.9 L2148.1,584 L2149.2,582 L2150.2,579.9 L2151.2,577.9 L2152,575.8 L2152.8,573.7 L2153.4,571.6 L2154,569.3 L2154.5,567.1 L2155,564.8 L2155.4,562.6 L2155.7,560.3 L2156,558 L2156.2,555.7 L2156.3,553.5 L2156.5,551.3 L2156.5,549.1 L2156.5,547 L2156.5,545 L2156.4,543 L2156.3,541.1 L2156.1,539.2 L2155.9,537.4 L2155.6,535.6 L2155.2,533.8 L2154.8,532.1 L2154.4,530.3 L2153.9,528.6 L2153.3,526.9 L2152.8,525.1 L2152.1,523.3 L2151.5,521.6 L2150.8,519.7 L2150.1,517.8 L2149.3,515.9 L2148.6,513.9 L2147.7,511.9 L2146.9,509.9 L2146,507.8 L2145,505.8 L2144,503.7 L2143,501.7 L2141.8,499.8 L2140.6,497.9 L2139.4,496 L2138,494.2 L2136.6,492.5 L2135.2,490.8 L2133.7,489.1 L2132.2,487.5 L2130.6,485.9 L2128.9,484.3 L2127.2,482.8 L2125.3,481.3 L2123.5,479.9 L2121.5,478.5 L2119.5,477.1 L2117.4,475.9 L2115.2,474.7 L2112.9,473.6 L2110.6,472.5 L2108,471.6 L2105.1,470.7 L2102,469.9 L2098.7,469.2 L2095.4,468.6 L2092,468 L2088.6,467.5 L2085.3,467.1 L2082.1,466.6 L2079.1,466.3 L2076.4,465.9 L2074,465.6 L2071.9,465.3 L2070.3,465 Z" fill="#6a6a6a"/>
<path d="M2089.3,501 C2086.1,498 2078.7,487.9 2070,483 C2061.3,478.1 2042.5,473.4 2037,471.5" fill="none" stroke="#6a6a6a" stroke-width="2" stroke-linecap="round" stroke-linejoin="round" />
<path d="M2089.3,501 C2084.4,501.3 2070.7,500.5 2060,503 C2049.3,505.5 2036.9,510.2 2025,516 C2013.1,521.8 1994.6,534.3 1988.5,538" fill="none" stroke="#6a6a6a" stroke-width="2.2" stroke-linecap="round" stroke-linejoin="round" />
<path d="M2088.2,500.4 L2087,502.6 L2085.5,505.2 L2083.8,508.3 L2081.9,511.8 L2079.9,515.6 L2077.6,519.6 L2075.3,523.9 L2072.9,528.3 L2070.5,532.8 L2068.1,537.3 L2065.7,541.8 L2063.4,546.2 L2061.2,550.5 L2059.1,554.5 L2057.1,558.7 L2055,563.1 L2052.8,567.7 L2050.6,572.4 L2048.3,577.1 L2046.1,581.9 L2044,586.6 L2041.9,591.1 L2039.9,595.4 L2038.1,599.5 L2036.4,603.2 L2034.9,606.6 L2033.6,609.4 L2032.5,611.8 L2033.5,612.2 L2034.6,609.9 L2035.9,607.1 L2037.5,603.8 L2039.3,600.1 L2041.2,596 L2043.2,591.7 L2045.3,587.2 L2047.6,582.5 L2049.8,577.8 L2052.1,573.1 L2054.4,568.4 L2056.6,563.9 L2058.8,559.5 L2060.9,555.5 L2063,551.4 L2065.2,547.1 L2067.6,542.8 L2070,538.3 L2072.5,533.8 L2074.9,529.4 L2077.3,525 L2079.7,520.8 L2081.9,516.8 L2084.1,513 L2086,509.5 L2087.7,506.5 L2089.2,503.8 L2090.4,501.6 Z" fill="#6a6a6a"/>
<path d="M2088.2,501.7 L2088.9,502.8 L2089.8,504.2 L2090.8,505.8 L2091.9,507.7 L2093.1,509.6 L2094.4,511.7 L2095.8,513.9 L2097.2,516.2 L2098.6,518.6 L2100,521 L2101.4,523.4 L2102.7,525.8 L2103.9,528.2 L2105,530.5 L2106.1,532.7 L2107.2,535 L2108.3,537.3 L2109.4,539.7 L2110.5,542 L2111.5,544.4 L2112.5,546.8 L2113.5,549.2 L2114.5,551.7 L2115.4,554.3 L2116.2,556.9 L2116.9,559.6 L2117.6,562.3 L2118.2,565.1 L2118.7,568.2 L2119.1,571.5 L2119.5,575 L2119.7,578.7 L2119.9,582.5 L2120.1,586.4 L2120.2,590.2 L2120.2,593.9 L2120.3,597.5 L2120.3,600.9 L2120.3,604 L2120.4,606.8 L2120.4,609.1 L2120.5,611 L2121.5,611 L2121.5,609.1 L2121.5,606.7 L2121.5,604 L2121.5,600.9 L2121.5,597.5 L2121.5,593.9 L2121.5,590.2 L2121.4,586.3 L2121.3,582.5 L2121.1,578.6 L2120.9,574.9 L2120.6,571.3 L2120.3,567.9 L2119.8,564.9 L2119.2,562 L2118.6,559.2 L2117.8,556.4 L2117,553.8 L2116.2,551.1 L2115.3,548.6 L2114.3,546.1 L2113.3,543.6 L2112.3,541.2 L2111.2,538.8 L2110.2,536.5 L2109.1,534.1 L2108,531.8 L2107,529.5 L2105.9,527.2 L2104.7,524.8 L2103.4,522.3 L2102,519.9 L2100.6,517.4 L2099.2,515 L2097.9,512.7 L2096.5,510.5 L2095.2,508.3 L2094,506.3 L2092.9,504.5 L2091.9,502.9 L2091.1,501.5 L2090.4,500.3 Z" fill="#6a6a6a"/>
<path d="M2089.3,501 C2094.4,501.7 2110.2,500.7 2120,505 C2129.8,509.3 2143.3,523.3 2148,527" fill="none" stroke="#6a6a6a" stroke-width="1.8" stroke-linecap="round" stroke-linejoin="round" />
<path d="M2089.3,501 C2090.4,499.2 2093.6,493.4 2096,490 C2098.4,486.6 2102.7,482.1 2104,480.5" fill="none" stroke="#6a6a6a" stroke-width="1.5" stroke-linecap="round" stroke-linejoin="round" />
<path d="M460.5,736 L457.3,610 C457.4,609.1 456.8,605.9 457.6,604.5 C458.4,603.1 461.3,602.2 462,601.8 L525,590.5 C528.2,584.7 537.1,565 544.4,555.5 C551.7,546 560.7,539.4 568.8,533.5 C576.9,527.6 585.1,523.7 593.2,520 C601.4,516.3 597.4,516 617.7,511.5 C638.1,507 678.7,498.7 715.3,493.2 C751.9,487.7 808.9,481.1 837.4,478.5 C865.9,475.9 869.9,476.5 886.2,477.3 C902.5,478.1 920.8,480.1 935,483.4 C949.2,486.7 961.5,491.6 971.7,496.9 C981.9,502.2 990,510.2 996.1,515.2 C1002.2,520.2 1006.3,525 1008.3,527 L1017,526.5 C1019.4,523.2 1023.9,515.2 1031.6,506.6 C1039.3,498 1052.4,483.4 1063,475 C1073.6,466.6 1079.2,461.8 1095,456 C1110.8,450.2 1121.1,446.3 1158,440 C1194.9,433.7 1263.7,424.1 1316.5,418 C1369.3,411.9 1432.5,406.8 1474.7,403.7 C1516.9,400.6 1545.9,399.6 1569.6,399.6 C1593.3,399.6 1603.3,401.2 1617,403.7 C1630.7,406.2 1643.8,409.8 1652,414.8 C1660.2,419.9 1663.7,430.8 1666,434 C1668.6,430.3 1673.8,419.8 1681.6,412 C1689.4,404.2 1697.2,394.3 1713,387 C1728.8,379.7 1750.2,373.6 1776.6,368 C1803,362.4 1845.1,356.6 1871.5,353.7 C1897.9,350.8 1919,350.6 1934.8,350.6 C1950.6,350.6 1956,351.3 1966.5,353.7 C1977,356.1 1987.5,358.8 1998,364.8 C2008.5,370.9 2021.2,380 2029.7,390 C2038.2,400 2044.1,412.8 2048.7,425 C2053.3,437.2 2056,456.7 2057.5,463 C2058.9,462.7 2061.2,461.1 2066,461 C2070.8,460.9 2079.8,460.5 2086,462.4 C2092.2,464.3 2097.7,469.9 2103.2,472.5 C2108.7,475.1 2114.1,475.8 2119,478.3 C2123.9,480.8 2128.6,484.2 2132.4,487.6 C2136.2,491 2140.1,496.7 2141.6,498.5 L2210.9,525.5 C2217.8,529.2 2238.6,538.4 2252.5,547.6 C2266.4,556.8 2282.5,569.6 2294.1,580.9 C2305.7,592.2 2313.7,602.9 2321.8,615.6 C2329.9,628.3 2337.7,647 2342.6,657.2 C2347.5,667.4 2350,673.7 2351.5,677 L2356,678.5 C2355.9,678.3 2342.8,672.6 2355.4,677.5 C2368,682.4 2408.2,697.4 2431.4,707.6 C2454.6,717.9 2477.8,729 2494.7,739 C2511.6,749 2523.2,758.2 2532.7,767.7 C2542.2,777.2 2546.6,784.5 2551.6,796 C2556.6,807.5 2560.6,822.2 2562.7,837 C2564.8,851.8 2564.8,869 2564,884.8 C2563.2,900.6 2561.2,919.9 2558,932 C2554.8,944.1 2552.4,949.6 2545,957.6 C2537.6,965.6 2527.4,973.4 2513.7,979.7 C2500,986 2471.4,993 2463,995.6 L2147,1067 C2144.2,1067.3 2135.7,1069.2 2130,1069 C2124.3,1068.8 2115.8,1066.1 2113,1065.5 L1888,973.5 C1886.8,974.2 1883.6,976.3 1881,977.5 C1878.4,978.7 1873.9,980 1872.5,980.5 L1477.5,1068.5 C1477.8,1075.8 1479.3,1095.1 1479,1112 C1478.7,1128.9 1477.1,1155.3 1475.5,1170 C1473.9,1184.7 1472.8,1192.3 1469.6,1200 C1466.3,1207.7 1462.8,1211.3 1456,1216.3 C1449.2,1221.3 1444.7,1224.1 1428.9,1229.8 C1413.1,1235.5 1387.6,1242.9 1361.1,1250.2 C1334.6,1257.5 1302.7,1265.5 1270,1273.5 C1237.3,1281.5 1200.5,1290.5 1165,1298 C1129.5,1305.5 1094.3,1310.1 1057,1318.5 C1019.7,1326.9 960.6,1343.2 941.3,1348.2 C938.4,1348.7 929.9,1351.8 923.9,1351.4 C917.9,1351 910.6,1348.2 905.1,1345.6 C899.6,1342.9 893,1337.2 890.6,1335.5 L728,1224 C724.8,1225.7 716.4,1232.2 709,1234 C701.6,1235.8 692.8,1237.4 683.8,1235 C674.8,1232.6 659.8,1222.2 655,1219.6 L481,1093 C477.3,1089.3 465.3,1080.5 459,1071 C452.7,1061.5 448.2,1054 443,1036 C437.8,1018 431.3,985.7 427.5,963 C423.7,940.3 421.7,918.8 420,900 C418.3,881.2 416.8,866 417.5,850 C418.2,834 419.8,819.6 424,804 C428.2,788.4 436.9,767.8 443,756.5 C449.1,745.2 457.6,739.4 460.5,736 Z" fill="none" stroke="#6a6a6a" stroke-width="7.4" stroke-linecap="round" stroke-linejoin="round" />
<path d="M463.5,736 C466.2,734.7 471.9,730.4 480,728 C488.1,725.6 506.7,722.6 512,721.5" fill="none" stroke="#585858" stroke-width="1.6" stroke-linecap="round" stroke-linejoin="round" />
<path d="M512,722.1 L512.7,722.1 L513.5,722 L514.3,721.9 L515.2,721.7 L516.2,721.5 L517.3,721.4 L518.4,721.2 L519.7,721.1 L521,721.1 L522.4,721.1 L524,721.2 L525.7,721.4 L527.5,721.7 L529.5,722.2 L531.6,722.8 L534,723.4 L536.5,724.2 L539.2,725 L542,726 L544.9,727 L547.9,728 L551,729.2 L554.1,730.4 L557.3,731.6 L560.4,732.9 L563.5,734.2 L566.6,735.6 L569.6,737.1 L572.5,738.5 L575.5,740.1 L578.5,741.7 L581.6,743.4 L584.7,745.1 L587.7,746.9 L590.8,748.7 L593.9,750.6 L597,752.5 L600.1,754.5 L603.2,756.5 L606.3,758.6 L609.4,760.6 L612.4,762.7 L615.5,764.9 L618.6,767 L621.8,769.2 L624.9,771.4 L628.1,773.7 L631.2,775.9 L634.4,778.3 L637.5,780.7 L640.6,783.1 L643.6,785.6 L646.6,788.1 L649.6,790.7 L652.4,793.4 L655.2,796.1 L658,798.9 L660.8,801.9 L663.6,805 L666.3,808.2 L669,811.5 L671.7,814.8 L674.4,818.2 L677,821.5 L679.5,824.9 L681.9,828.2 L684.3,831.5 L686.6,834.7 L688.8,837.8 L690.9,840.7 L692.9,843.6 L694.8,846.3 L696.6,848.9 L698.3,851.4 L700,853.9 L701.5,856.3 L703,858.7 L704.5,861.1 L705.8,863.5 L707.2,866 L708.5,868.5 L709.7,871 L710.9,873.7 L712.1,876.5 L713.3,879.3 L714.4,882.3 L715.4,885.3 L716.4,888.4 L717.3,891.6 L718.2,894.8 L719.1,898 L719.9,901.3 L720.7,904.6 L721.5,907.9 L722.3,911.2 L723.1,914.4 L723.9,917.7 L724.7,920.8 L725.5,924 L726.4,927.4 L727.2,930.9 L728,934.4 L728.9,938 L729.7,941.6 L730.4,945.1 L731.2,948.4 L731.9,951.6 L732.6,954.7 L733.2,957.4 L733.7,959.9 L734.2,962 L734.6,963.8 L741.4,962.2 L741,960.5 L740.5,958.4 L739.9,955.9 L739.3,953.1 L738.6,950.1 L737.9,946.9 L737.1,943.5 L736.3,940 L735.4,936.5 L734.6,932.9 L733.7,929.3 L732.8,925.8 L731.9,922.4 L731.1,919.2 L730.3,916 L729.4,912.8 L728.6,909.6 L727.8,906.3 L726.9,903 L726.1,899.7 L725.2,896.4 L724.2,893.1 L723.3,889.8 L722.3,886.6 L721.2,883.4 L720.1,880.2 L718.9,877.1 L717.7,874.1 L716.4,871.2 L715.1,868.5 L713.7,865.8 L712.4,863.2 L710.9,860.7 L709.5,858.2 L708,855.7 L706.4,853.2 L704.8,850.7 L703.1,848.2 L701.3,845.7 L699.5,843 L697.5,840.3 L695.5,837.5 L693.3,834.5 L691.1,831.4 L688.7,828.2 L686.3,825 L683.8,821.6 L681.2,818.3 L678.5,814.9 L675.8,811.5 L673.1,808.1 L670.3,804.8 L667.4,801.6 L664.5,798.4 L661.7,795.4 L658.8,792.5 L655.8,789.7 L652.8,787 L649.7,784.4 L646.6,781.9 L643.5,779.4 L640.3,777 L637.1,774.6 L633.9,772.3 L630.7,770 L627.5,767.8 L624.3,765.6 L621.1,763.5 L617.9,761.3 L614.8,759.3 L611.6,757.2 L608.5,755.2 L605.3,753.2 L602.1,751.2 L599,749.3 L595.8,747.5 L592.6,745.6 L589.5,743.8 L586.3,742.1 L583.2,740.4 L580.1,738.8 L577,737.3 L573.9,735.8 L570.8,734.3 L567.8,733 L564.6,731.6 L561.4,730.3 L558.2,729.1 L555.1,727.9 L551.9,726.7 L548.8,725.7 L545.7,724.7 L542.7,723.7 L539.9,722.9 L537.1,722.1 L534.6,721.4 L532.1,720.8 L529.9,720.2 L527.9,719.8 L525.9,719.5 L524.1,719.4 L522.5,719.3 L520.9,719.4 L519.5,719.5 L518.2,719.7 L517,719.9 L515.9,720.1 L515,720.3 L514.1,720.5 L513.3,720.7 L512.6,720.8 L512,720.9 Z" fill="#6a6a6a"/>
<path d="M738,963 C739.2,978.8 744.5,1026.3 745.5,1058 C746.5,1089.7 745.9,1128.7 744,1153 C742.1,1177.3 736.7,1192.2 734,1204 C731.3,1215.8 729,1220.7 728,1224" fill="none" stroke="#6a6a6a" stroke-width="7" stroke-linecap="round" stroke-linejoin="round" />
<path d="M522.3,590 L522.2,591.6 L522,593.5 L521.7,595.6 L521.4,598.1 L521,600.8 L520.7,603.6 L520.3,606.7 L519.9,609.8 L519.5,613.1 L519.2,616.5 L518.9,619.8 L518.7,623.2 L518.6,626.6 L518.5,629.9 L518.5,633.3 L518.6,636.7 L518.7,640.2 L518.9,643.9 L519.1,647.6 L519.3,651.3 L519.6,655 L519.9,658.8 L520.2,662.5 L520.5,666.2 L520.9,669.9 L521.3,673.4 L521.6,676.9 L522,680.2 L522.5,683.5 L523,686.9 L523.5,690.3 L524.1,693.8 L524.7,697.2 L525.3,700.6 L526,703.8 L526.6,706.9 L527.2,709.9 L527.8,712.7 L528.3,715.2 L528.8,717.5 L529.2,719.4 L529.6,721.1 L530.4,720.9 L530.3,719.3 L530,717.3 L529.8,715 L529.5,712.4 L529.1,709.6 L528.7,706.6 L528.3,703.4 L527.9,700.2 L527.5,696.8 L527.2,693.4 L526.8,689.9 L526.5,686.5 L526.2,683.1 L526,679.8 L525.8,676.5 L525.5,673.1 L525.3,669.5 L525.1,665.9 L524.9,662.2 L524.7,658.5 L524.6,654.8 L524.5,651 L524.4,647.3 L524.3,643.7 L524.3,640.1 L524.3,636.6 L524.4,633.3 L524.5,630.1 L524.7,626.9 L524.9,623.7 L525.2,620.4 L525.6,617.1 L526,613.9 L526.4,610.7 L526.9,607.6 L527.4,604.6 L527.9,601.8 L528.3,599.1 L528.7,596.7 L529.1,594.5 L529.4,592.6 L529.7,591 Z" fill="#6a6a6a"/>
<path d="M1010.5,529.3 L1010.7,529.8 L1011,530.3 L1011.4,530.9 L1011.7,531.5 L1012.1,532.2 L1012.5,532.9 L1013,533.7 L1013.5,534.5 L1014,535.5 L1014.6,536.5 L1015.2,537.5 L1015.8,538.7 L1016.4,540 L1017,541.3 L1017.7,542.7 L1018.4,544.2 L1019.2,545.8 L1020.1,547.4 L1020.9,549 L1021.8,550.8 L1022.7,552.6 L1023.6,554.5 L1024.5,556.5 L1025.3,558.6 L1026.2,560.8 L1027,563.2 L1027.8,565.6 L1028.6,568.2 L1029.3,570.9 L1030,573.8 L1030.7,576.7 L1031.4,579.8 L1032.1,582.9 L1032.7,586.2 L1033.4,589.6 L1034,593.1 L1034.7,596.8 L1035.3,600.5 L1035.9,604.4 L1036.5,608.4 L1037.1,612.6 L1037.6,616.8 L1038.2,621.3 L1038.8,626.2 L1039.4,631.3 L1040,636.7 L1040.5,642.2 L1041.1,647.8 L1041.6,653.5 L1042.2,659.2 L1042.7,664.8 L1043.2,670.2 L1043.6,675.6 L1044.1,680.7 L1044.5,685.5 L1044.9,689.9 L1045.3,694.2 L1045.7,698.3 L1046.1,702.2 L1046.5,706.1 L1046.9,709.8 L1047.2,713.4 L1047.6,716.8 L1047.8,720 L1048.1,723.2 L1048.3,726.1 L1048.4,728.8 L1048.5,731.4 L1048.6,733.8 L1048.5,736 L1048.4,738 L1048.3,739.8 L1048.2,741.2 L1048,742.5 L1047.8,743.5 L1047.6,744.3 L1047.4,745 L1047.1,745.5 L1046.8,746 L1046.4,746.4 L1045.9,746.9 L1045.3,747.5 L1044.5,748.1 L1043.6,748.7 L1042.5,749.3 L1041.3,749.9 L1039.7,750.4 L1037.9,751 L1036,751.5 L1033.9,752 L1031.9,752.4 L1029.8,752.8 L1027.8,753.2 L1025.8,753.5 L1024.1,753.8 L1022.5,754.1 L1021.1,754.4 L1020,754.7 L1021,759.1 L1022,758.9 L1023.3,758.7 L1024.8,758.5 L1026.6,758.2 L1028.6,757.9 L1030.6,757.5 L1032.8,757.1 L1034.9,756.7 L1037.1,756.2 L1039.2,755.7 L1041.2,755.1 L1043.1,754.5 L1044.8,753.7 L1046.2,752.9 L1047.4,752.1 L1048.4,751.4 L1049.2,750.7 L1050.1,749.9 L1050.8,749 L1051.5,748 L1052,746.9 L1052.4,745.8 L1052.7,744.6 L1053,743.2 L1053.2,741.8 L1053.3,740.1 L1053.4,738.3 L1053.5,736.2 L1053.6,733.8 L1053.5,731.3 L1053.4,728.6 L1053.3,725.8 L1053.1,722.8 L1052.8,719.6 L1052.5,716.3 L1052.2,712.9 L1051.9,709.3 L1051.5,705.6 L1051.1,701.7 L1050.7,697.8 L1050.3,693.7 L1049.9,689.5 L1049.5,685 L1049,680.2 L1048.6,675.1 L1048.1,669.8 L1047.6,664.3 L1047.1,658.7 L1046.5,653 L1046,647.3 L1045.4,641.7 L1044.8,636.2 L1044.2,630.8 L1043.6,625.6 L1043,620.7 L1042.4,616.2 L1041.7,611.9 L1041,607.7 L1040.4,603.7 L1039.7,599.8 L1039,596 L1038.2,592.3 L1037.5,588.8 L1036.8,585.4 L1036,582.1 L1035.2,578.9 L1034.5,575.8 L1033.7,572.8 L1032.9,570 L1032,567.2 L1031.2,564.5 L1030.2,562 L1029.3,559.6 L1028.3,557.3 L1027.3,555.2 L1026.3,553.2 L1025.3,551.3 L1024.3,549.5 L1023.3,547.8 L1022.3,546.1 L1021.4,544.6 L1020.6,543.1 L1019.7,541.7 L1019,540.3 L1018.3,539 L1017.6,537.7 L1016.9,536.6 L1016.2,535.5 L1015.6,534.5 L1015,533.6 L1014.4,532.8 L1013.9,532 L1013.4,531.3 L1013,530.7 L1012.5,530.1 L1012.1,529.6 L1011.8,529.1 L1011.5,528.7 Z" fill="#6a6a6a"/>
<path d="M1020.3,754.6 L1014.8,755.2 L1008,755.8 L1000.2,756.6 L991.3,757.5 L981.7,758.4 L971.5,759.4 L960.8,760.4 L949.7,761.5 L938.5,762.7 L927.4,763.9 L916.4,765.1 L905.7,766.3 L895.5,767.5 L885.9,768.7 L876.8,770 L867.6,771.3 L858.4,772.7 L849.3,774.1 L840.2,775.6 L831.2,777 L822.3,778.5 L813.4,780 L804.8,781.5 L796.2,783 L787.8,784.5 L779.6,786 L771.6,787.4 L763.8,788.8 L756.1,790.3 L748.3,791.8 L740.4,793.3 L732.5,794.8 L724.8,796.4 L717.2,797.9 L709.9,799.4 L702.9,800.9 L696.3,802.3 L690.1,803.6 L684.5,804.8 L679.4,805.9 L675,806.8 L671.3,807.6 L671.5,808.6 L675.2,807.9 L679.6,807.1 L684.7,806.2 L690.4,805.1 L696.6,804 L703.3,802.7 L710.3,801.4 L717.7,800 L725.2,798.6 L733,797.2 L740.9,795.8 L748.7,794.4 L756.6,793.1 L764.4,791.8 L772.2,790.5 L780.2,789.1 L788.4,787.7 L796.8,786.3 L805.3,784.9 L814,783.5 L822.8,782.1 L831.8,780.7 L840.8,779.3 L849.9,777.9 L859,776.6 L868.1,775.3 L877.3,774.1 L886.5,772.9 L896,771.7 L906.2,770.5 L916.8,769.3 L927.8,768.2 L939,767 L950.2,765.9 L961.2,764.8 L971.9,763.8 L982.2,762.8 L991.8,761.9 L1000.6,761.1 L1008.5,760.4 L1015.2,759.7 L1020.7,759.2 Z" fill="#6a6a6a"/>
<path d="M671.4,809.5 L764,793.5 L1022,759.5" fill="none" stroke="#585858" stroke-width="1.2" stroke-linecap="round" stroke-linejoin="round" />
<path d="M1057,748.7 C1073.8,746.9 1100,747.1 1158,737.6 C1216,728.1 1341.7,702.8 1405,691.7 C1468.3,680.6 1500,676.5 1538,671 C1576,665.5 1609.3,661.5 1633,658.5 C1656.7,655.5 1672.2,653.8 1680,652.8" fill="none" stroke="#6a6a6a" stroke-width="5" stroke-linecap="round" stroke-linejoin="round" />
<line x1="415" y1="397" x2="415" y2="828" stroke="#111" stroke-width="2.2" stroke-linecap="butt"/>
<line x1="2062.9" y1="226" x2="2062.9" y2="458" stroke="#111" stroke-width="2.2" stroke-linecap="butt"/>
<line x1="2570.3" y1="339" x2="2570.3" y2="858" stroke="#111" stroke-width="2.2" stroke-linecap="butt"/>
<line x1="217" y1="557" x2="607.6" y2="511.5" stroke="#111" stroke-width="2.2" stroke-linecap="butt"/>
<line x1="297.5" y1="615" x2="459" y2="598" stroke="#111" stroke-width="2.2" stroke-linecap="butt"/>
<line x1="384" y1="738.7" x2="511.5" y2="720" stroke="#111" stroke-width="2.2" stroke-linecap="butt"/>
<line x1="217" y1="1147" x2="479.7" y2="1097.8" stroke="#111" stroke-width="2.2" stroke-linecap="butt"/>
<line x1="419" y1="941" x2="419" y2="1148" stroke="#111" stroke-width="2.2" stroke-linecap="butt"/>
<line x1="683.8" y1="1240" x2="683.8" y2="1363" stroke="#111" stroke-width="2.2" stroke-linecap="butt"/>
<line x1="685.4" y1="1240" x2="1074" y2="1516" stroke="#111" stroke-width="2.2" stroke-linecap="butt"/>
<line x1="1466" y1="1208" x2="1694.5" y2="1347.7" stroke="#111" stroke-width="2.2" stroke-linecap="butt"/>
<line x1="2146.8" y1="1087" x2="2193.4" y2="1080" stroke="#111" stroke-width="2.2" stroke-linecap="butt"/>
<path d="M413.7,396.2 L2062.9,225 L2572.4,338.4" fill="none" stroke="#ec1c24" stroke-width="7.7" stroke-linejoin="miter"/>
<line x1="217" y1="557" x2="217" y2="1147" stroke="#ec1c24" stroke-width="7.7" stroke-linecap="butt"/>
<line x1="297.5" y1="615" x2="297.5" y2="1132.5" stroke="#ec1c24" stroke-width="7.7" stroke-linecap="butt"/>
<line x1="384" y1="738.7" x2="384" y2="1116.8" stroke="#ec1c24" stroke-width="7.7" stroke-linecap="butt"/>
<line x1="414.1" y1="1149" x2="684.5" y2="1363" stroke="#ec1c24" stroke-width="7.7" stroke-linecap="butt"/>
<line x1="1074" y1="1516" x2="1694.5" y2="1347.7" stroke="#ec1c24" stroke-width="7.7" stroke-linecap="butt"/>
<line x1="548.1" y1="657.8" x2="1033.9" y2="599.2" stroke="#ec1c24" stroke-width="7.7" stroke-linecap="butt"/>
<line x1="1045.9" y1="658.5" x2="1697.5" y2="558.5" stroke="#ec1c24" stroke-width="7.7" stroke-linecap="butt"/>
<line x1="1691" y1="504" x2="2056.6" y2="450" stroke="#ec1c24" stroke-width="7.7" stroke-linecap="butt"/>
<path d="M1376.6,411.6 L1397,604.7 L1406.6,688.5 L1706,806.5" fill="none" stroke="#ec1c24" stroke-width="7.7" stroke-linejoin="miter"/>
<line x1="1692.7" y1="654" x2="2120" y2="811" stroke="#ec1c24" stroke-width="7.7" stroke-linecap="butt"/>
<path d="M1296.8,880.5 L1706,806.5 L1908,770" fill="none" stroke="#ec1c24" stroke-width="7.7" stroke-linejoin="miter"/>
<line x1="1709" y1="803" x2="1709" y2="1053.5" stroke="#ec1c24" stroke-width="7.2" stroke-linecap="butt"/>
<line x1="860.7" y1="1017" x2="1374.7" y2="922" stroke="#ec1c24" stroke-width="7.7" stroke-linecap="butt"/>
<line x1="655" y1="902" x2="715" y2="889" stroke="#ec1c24" stroke-width="7.7" stroke-linecap="butt"/>
<line x1="2197" y1="1057" x2="2197" y2="1081" stroke="#ec1c24" stroke-width="8" stroke-linecap="butt"/>
<g transform="translate(1228,273.5) rotate(-5.9) translate(0,26)"><text class="b" transform="translate(-110,0) scale(0.9,1)" font-size="74.5">3</text><path d="M-47.5,0 L-47.5,-52.3 L-57.3,-52.3 L-66.8,-45.5 L-66.8,-36 L-59.8,-41 L-59.8,0 Z"/><text class="b" transform="translate(-32.9,0) scale(0.9,1)" font-size="74.5">8</text><path d="M43.1,-28.5 A18.4,16.3 0 1 0 43.1,-8.8 M56.1,0 L56.1,-37 M56.1,-22.6 A12.4,12.4 0 0 1 80.9,-22.6 L80.9,0 M80.9,-22.6 A12.4,12.4 0 0 1 105.8,-22.6 L105.8,0" fill="none" stroke="#000" stroke-width="4.6" stroke-linecap="butt" stroke-linejoin="round"/></g>
<g transform="translate(2328.5,247.3) rotate(12.6) translate(0,26)"><path d="M-86,0 L-86,-52.3 L-95.8,-52.3 L-105.3,-45.5 L-105.3,-36 L-98.3,-41 L-98.3,0 Z"/><text class="b" transform="translate(-71.5,0) scale(0.9,1)" font-size="74.5">6</text><text class="b" transform="translate(-32.9,0) scale(0.9,1)" font-size="74.5">0</text><path d="M43.1,-28.5 A18.4,16.3 0 1 0 43.1,-8.8 M56.1,0 L56.1,-37 M56.1,-22.6 A12.4,12.4 0 0 1 80.9,-22.6 L80.9,0 M80.9,-22.6 A12.4,12.4 0 0 1 105.8,-22.6 L105.8,0" fill="none" stroke="#000" stroke-width="4.6" stroke-linecap="butt" stroke-linejoin="round"/></g>
<g transform="translate(773.5,596) rotate(-7.2) translate(0,26)"><text class="b" transform="translate(-90.7,0) scale(0.9,1)" font-size="74.5">8</text><text class="b" transform="translate(-52.2,0) scale(0.9,1)" font-size="74.5">5</text><path d="M23.8,-28.5 A18.4,16.3 0 1 0 23.8,-8.8 M36.8,0 L36.8,-37 M36.8,-22.6 A12.4,12.4 0 0 1 61.7,-22.6 L61.7,0 M61.7,-22.6 A12.4,12.4 0 0 1 86.5,-22.6 L86.5,0" fill="none" stroke="#000" stroke-width="4.6" stroke-linecap="butt" stroke-linejoin="round"/></g>
<g transform="translate(1225.5,593) rotate(-7.3) translate(0,26)"><path d="M-86,0 L-86,-52.3 L-95.8,-52.3 L-105.3,-45.5 L-105.3,-36 L-98.3,-41 L-98.3,0 Z"/><text class="b" transform="translate(-71.5,0) scale(0.9,1)" font-size="74.5">3</text><text class="b" transform="translate(-32.9,0) scale(0.9,1)" font-size="74.5">0</text><path d="M43.1,-28.5 A18.4,16.3 0 1 0 43.1,-8.8 M56.1,0 L56.1,-37 M56.1,-22.6 A12.4,12.4 0 0 1 80.9,-22.6 L80.9,0 M80.9,-22.6 A12.4,12.4 0 0 1 105.8,-22.6 L105.8,0" fill="none" stroke="#000" stroke-width="4.6" stroke-linecap="butt" stroke-linejoin="round"/></g>
<g transform="translate(1424,500) rotate(84) translate(0,26)"><text class="b" transform="translate(-90.7,0) scale(0.9,1)" font-size="74.5">4</text><text class="b" transform="translate(-52.2,0) scale(0.9,1)" font-size="74.5">4</text><path d="M23.8,-28.5 A18.4,16.3 0 1 0 23.8,-8.8 M36.8,0 L36.8,-37 M36.8,-22.6 A12.4,12.4 0 0 1 61.7,-22.6 L61.7,0 M61.7,-22.6 A12.4,12.4 0 0 1 86.5,-22.6 L86.5,0" fill="none" stroke="#000" stroke-width="4.6" stroke-linecap="butt" stroke-linejoin="round"/></g>
<g transform="translate(1880.3,441.1) rotate(-8.5) translate(0,26)"><text class="b" transform="translate(-90.7,0) scale(0.9,1)" font-size="74.5">8</text><text class="b" transform="translate(-52.2,0) scale(0.9,1)" font-size="74.5">5</text><path d="M23.8,-28.5 A18.4,16.3 0 1 0 23.8,-8.8 M36.8,0 L36.8,-37 M36.8,-22.6 A12.4,12.4 0 0 1 61.7,-22.6 L61.7,0 M61.7,-22.6 A12.4,12.4 0 0 1 86.5,-22.6 L86.5,0" fill="none" stroke="#000" stroke-width="4.6" stroke-linecap="butt" stroke-linejoin="round"/></g>
<g transform="translate(1593.5,728.5) rotate(22) translate(0,26)"><text class="b" transform="translate(-90.7,0) scale(0.9,1)" font-size="74.5">5</text><text class="b" transform="translate(-52.2,0) scale(0.9,1)" font-size="74.5">5</text><path d="M23.8,-28.5 A18.4,16.3 0 1 0 23.8,-8.8 M36.8,0 L36.8,-37 M36.8,-22.6 A12.4,12.4 0 0 1 61.7,-22.6 L61.7,0 M61.7,-22.6 A12.4,12.4 0 0 1 86.5,-22.6 L86.5,0" fill="none" stroke="#000" stroke-width="4.6" stroke-linecap="butt" stroke-linejoin="round"/></g>
<g transform="translate(1954,710.7) rotate(20) translate(0,26)"><path d="M-86,0 L-86,-52.3 L-95.8,-52.3 L-105.3,-45.5 L-105.3,-36 L-98.3,-41 L-98.3,0 Z"/><path d="M-47.5,0 L-47.5,-52.3 L-57.3,-52.3 L-66.8,-45.5 L-66.8,-36 L-59.8,-41 L-59.8,0 Z"/><text class="b" transform="translate(-32.9,0) scale(0.9,1)" font-size="74.5">5</text><path d="M43.1,-28.5 A18.4,16.3 0 1 0 43.1,-8.8 M56.1,0 L56.1,-37 M56.1,-22.6 A12.4,12.4 0 0 1 80.9,-22.6 L80.9,0 M80.9,-22.6 A12.4,12.4 0 0 1 105.8,-22.6 L105.8,0" fill="none" stroke="#000" stroke-width="4.6" stroke-linecap="butt" stroke-linejoin="round"/></g>
<g transform="translate(1447,817.2) rotate(-10.2) translate(0,26)"><path d="M-86,0 L-86,-52.3 L-95.8,-52.3 L-105.3,-45.5 L-105.3,-36 L-98.3,-41 L-98.3,0 Z"/><text class="b" transform="translate(-71.5,0) scale(0.9,1)" font-size="74.5">3</text><text class="b" transform="translate(-32.9,0) scale(0.9,1)" font-size="74.5">0</text><path d="M43.1,-28.5 A18.4,16.3 0 1 0 43.1,-8.8 M56.1,0 L56.1,-37 M56.1,-22.6 A12.4,12.4 0 0 1 80.9,-22.6 L80.9,0 M80.9,-22.6 A12.4,12.4 0 0 1 105.8,-22.6 L105.8,0" fill="none" stroke="#000" stroke-width="4.6" stroke-linecap="butt" stroke-linejoin="round"/></g>
<g transform="translate(1745.5,909) rotate(90) translate(0,26)"><text class="b" transform="translate(-90.7,0) scale(0.9,1)" font-size="74.5">4</text><text class="b" transform="translate(-52.2,0) scale(0.9,1)" font-size="74.5">5</text><path d="M23.8,-28.5 A18.4,16.3 0 1 0 23.8,-8.8 M36.8,0 L36.8,-37 M36.8,-22.6 A12.4,12.4 0 0 1 61.7,-22.6 L61.7,0 M61.7,-22.6 A12.4,12.4 0 0 1 86.5,-22.6 L86.5,0" fill="none" stroke="#000" stroke-width="4.6" stroke-linecap="butt" stroke-linejoin="round"/></g>
<g transform="translate(1075,943) rotate(-10.2) translate(0,26)"><text class="b" transform="translate(-90.7,0) scale(0.9,1)" font-size="74.5">8</text><text class="b" transform="translate(-52.2,0) scale(0.9,1)" font-size="74.5">5</text><path d="M23.8,-28.5 A18.4,16.3 0 1 0 23.8,-8.8 M36.8,0 L36.8,-37 M36.8,-22.6 A12.4,12.4 0 0 1 61.7,-22.6 L61.7,0 M61.7,-22.6 A12.4,12.4 0 0 1 86.5,-22.6 L86.5,0" fill="none" stroke="#000" stroke-width="4.6" stroke-linecap="butt" stroke-linejoin="round"/></g>
<g transform="translate(671,868) rotate(-13) translate(0,26)"><text class="b" transform="translate(-71.5,0) scale(0.9,1)" font-size="74.5">9</text><path d="M4.6,-28.5 A18.4,16.3 0 1 0 4.6,-8.8 M17.6,0 L17.6,-37 M17.6,-22.6 A12.4,12.4 0 0 1 42.4,-22.6 L42.4,0 M42.4,-22.6 A12.4,12.4 0 0 1 67.3,-22.6 L67.3,0" fill="none" stroke="#000" stroke-width="4.6" stroke-linecap="butt" stroke-linejoin="round"/></g>
<g transform="translate(176,852) rotate(-90) translate(0,26)"><text class="b" transform="translate(-90.7,0) scale(0.9,1)" font-size="74.5">8</text><text class="b" transform="translate(-52.2,0) scale(0.9,1)" font-size="74.5">8</text><path d="M23.8,-28.5 A18.4,16.3 0 1 0 23.8,-8.8 M36.8,0 L36.8,-37 M36.8,-22.6 A12.4,12.4 0 0 1 61.7,-22.6 L61.7,0 M61.7,-22.6 A12.4,12.4 0 0 1 86.5,-22.6 L86.5,0" fill="none" stroke="#000" stroke-width="4.6" stroke-linecap="butt" stroke-linejoin="round"/></g>
<g transform="translate(262,902) rotate(-90) translate(0,26)"><text class="b" transform="translate(-90.7,0) scale(0.9,1)" font-size="74.5">7</text><text class="b" transform="translate(-52.2,0) scale(0.9,1)" font-size="74.5">4</text><path d="M23.8,-28.5 A18.4,16.3 0 1 0 23.8,-8.8 M36.8,0 L36.8,-37 M36.8,-22.6 A12.4,12.4 0 0 1 61.7,-22.6 L61.7,0 M61.7,-22.6 A12.4,12.4 0 0 1 86.5,-22.6 L86.5,0" fill="none" stroke="#000" stroke-width="4.6" stroke-linecap="butt" stroke-linejoin="round"/></g>
<g transform="translate(351,941) rotate(-90) translate(0,26)"><text class="b" transform="translate(-90.7,0) scale(0.9,1)" font-size="74.5">7</text><text class="b" transform="translate(-52.2,0) scale(0.9,1)" font-size="74.5">0</text><path d="M23.8,-28.5 A18.4,16.3 0 1 0 23.8,-8.8 M36.8,0 L36.8,-37 M36.8,-22.6 A12.4,12.4 0 0 1 61.7,-22.6 L61.7,0 M61.7,-22.6 A12.4,12.4 0 0 1 86.5,-22.6 L86.5,0" fill="none" stroke="#000" stroke-width="4.6" stroke-linecap="butt" stroke-linejoin="round"/></g>
<g transform="translate(559,1216) rotate(38.9) translate(0,26)"><path d="M-86,0 L-86,-52.3 L-95.8,-52.3 L-105.3,-45.5 L-105.3,-36 L-98.3,-41 L-98.3,0 Z"/><text class="b" transform="translate(-71.5,0) scale(0.9,1)" font-size="74.5">0</text><text class="b" transform="translate(-32.9,0) scale(0.9,1)" font-size="74.5">2</text><path d="M43.1,-28.5 A18.4,16.3 0 1 0 43.1,-8.8 M56.1,0 L56.1,-37 M56.1,-22.6 A12.4,12.4 0 0 1 80.9,-22.6 L80.9,0 M80.9,-22.6 A12.4,12.4 0 0 1 105.8,-22.6 L105.8,0" fill="none" stroke="#000" stroke-width="4.6" stroke-linecap="butt" stroke-linejoin="round"/></g>
<g transform="translate(1325.2,1409.2) rotate(-15.2) translate(0,26)"><text class="b" transform="translate(-90.7,0) scale(0.9,1)" font-size="74.5">9</text><text class="b" transform="translate(-52.2,0) scale(0.9,1)" font-size="74.5">4</text><path d="M23.8,-28.5 A18.4,16.3 0 1 0 23.8,-8.8 M36.8,0 L36.8,-37 M36.8,-22.6 A12.4,12.4 0 0 1 61.7,-22.6 L61.7,0 M61.7,-22.6 A12.4,12.4 0 0 1 86.5,-22.6 L86.5,0" fill="none" stroke="#000" stroke-width="4.6" stroke-linecap="butt" stroke-linejoin="round"/></g>
<g transform="translate(2234.5,1058.5) rotate(90) translate(0,26)"><text class="b" transform="translate(-100.4,0) scale(0.9,1)" font-size="74.5">4</text><text class="b" transform="translate(-61.8,0) scale(0.9,1)" font-size="74.5">,</text><text class="b" transform="translate(-42.6,0) scale(0.9,1)" font-size="74.5">5</text><path d="M33.5,-28.5 A18.4,16.3 0 1 0 33.5,-8.8 M46.5,0 L46.5,-37 M46.5,-22.6 A12.4,12.4 0 0 1 71.3,-22.6 L71.3,0 M71.3,-22.6 A12.4,12.4 0 0 1 96.2,-22.6 L96.2,0" fill="none" stroke="#000" stroke-width="4.6" stroke-linecap="butt" stroke-linejoin="round"/></g>
<text x="769" y="1748.3" font-size="75.5" class="b" fill="#6a6a6a">300 x 140</text>
<path d="M343.4,1528.5 L643.1,1528.5 C646.7,1529.1 658.5,1529.1 664.8,1532 C671.1,1534.9 677.1,1539.2 681.1,1546.1 C685.1,1553 687.4,1568.7 688.7,1573.2 L688.7,1717 L481.7,1711.6 L293.2,1768.5 L293.2,1603.1 C295.9,1607.6 302.7,1621.1 309.5,1630.2 C316.3,1639.2 323.5,1649.2 333.9,1657.3 C344.3,1665.4 359.2,1673.6 371.9,1679 C384.5,1684.4 395.8,1687.2 409.9,1689.9 C423.9,1692.5 448.3,1693.9 456,1694.7 C448.3,1690.3 423.9,1680.3 409.9,1668.2 C395.8,1656 381.8,1638.8 371.9,1622.1 C361.9,1605.3 354.9,1583.4 350.2,1567.8 C345.4,1552.2 344.5,1535 343.4,1528.5 Z" fill="#6b6b6b"/>
<path d="M508.5,1533.8 L509.1,1535.7 L511,1536 L509.4,1537.1 L509.8,1539 L508.2,1537.8 L506.5,1538.7 L507.2,1536.9 L505.7,1535.5 L507.7,1535.6Z M436.1,1537 L437.2,1540.8 L441.1,1541.3 L437.8,1543.5 L438.5,1547.4 L435.4,1544.9 L432,1546.8 L433.3,1543.1 L430.5,1540.4 L434.4,1540.6Z M619.1,1540.5 L620.2,1544.3 L624.1,1544.8 L620.9,1547 L621.6,1550.9 L618.5,1548.5 L615.1,1550.4 L616.4,1546.7 L613.5,1544 L617.5,1544.1Z M581.5,1543.3 L582,1545.2 L584,1545.5 L582.4,1546.6 L582.7,1548.5 L581.2,1547.3 L579.4,1548.2 L580.1,1546.4 L578.7,1545 L580.7,1545.1Z M386.4,1549.2 L387.5,1553 L391.4,1553.5 L388.2,1555.7 L388.9,1559.6 L385.8,1557.1 L382.3,1559 L383.7,1555.3 L380.8,1552.6 L384.8,1552.8Z M479.8,1550.9 L480.3,1552.8 L482.3,1553.1 L480.6,1554.2 L481,1556.1 L479.5,1554.9 L477.7,1555.8 L478.4,1554 L477,1552.6 L478.9,1552.7Z M530.4,1546.8 L532.1,1552.8 L538.3,1553.6 L533.1,1557 L534.3,1563.1 L529.4,1559.3 L524,1562.3 L526.1,1556.5 L521.6,1552.2 L527.8,1552.4Z M633,1555 L633.6,1556.9 L635.5,1557.1 L633.9,1558.2 L634.3,1560.2 L632.7,1558.9 L631,1559.9 L631.7,1558 L630.2,1556.7 L632.2,1556.8Z M659.5,1551.4 L661.2,1557.4 L667.4,1558.2 L662.3,1561.6 L663.4,1567.7 L658.5,1563.9 L653.1,1566.9 L655.2,1561.1 L650.7,1556.8 L656.9,1557.1Z M451.5,1560.9 L452.6,1564.7 L456.5,1565.2 L453.3,1567.4 L454,1571.2 L450.9,1568.8 L447.4,1570.7 L448.8,1567 L445.9,1564.3 L449.9,1564.4Z M570.9,1558.2 L572,1562 L575.9,1562.4 L572.6,1564.6 L573.3,1568.5 L570.2,1566.1 L566.8,1568 L568.1,1564.3 L565.2,1561.6 L569.2,1561.7Z M609.7,1560.9 L610.7,1564.7 L614.7,1565.2 L611.4,1567.4 L612.1,1571.2 L609,1568.8 L605.6,1570.7 L606.9,1567 L604,1564.3 L608,1564.4Z M549.8,1567.7 L550.3,1569.6 L552.3,1569.9 L550.6,1571 L551,1572.9 L549.4,1571.7 L547.7,1572.6 L548.4,1570.8 L547,1569.4 L548.9,1569.5Z M563.9,1567.7 L564.4,1569.6 L566.4,1569.9 L564.7,1571 L565.1,1572.9 L563.5,1571.7 L561.8,1572.6 L562.5,1570.8 L561.1,1569.4 L563,1569.5Z M417.1,1568.5 L418.8,1574.5 L424.9,1575.3 L419.8,1578.7 L421,1584.8 L416.1,1581 L410.6,1584 L412.8,1578.2 L408.2,1573.9 L414.4,1574.1Z M499.8,1570.9 L500.9,1574.7 L504.8,1575.2 L501.5,1577.4 L502.3,1581.3 L499.2,1578.8 L495.7,1580.7 L497.1,1577 L494.2,1574.3 L498.1,1574.5Z M487.9,1575.9 L488.5,1577.8 L490.4,1578 L488.8,1579.1 L489.2,1581 L487.6,1579.8 L485.9,1580.8 L486.6,1578.9 L485.1,1577.6 L487.1,1577.7Z M584.5,1578.6 L585,1580.5 L587,1580.7 L585.3,1581.8 L585.7,1583.8 L584.2,1582.5 L582.4,1583.5 L583.1,1581.6 L581.7,1580.3 L583.6,1580.4Z M457,1579 L458,1582.8 L462,1583.3 L458.7,1585.5 L459.4,1589.4 L456.3,1587 L452.9,1588.9 L454.2,1585.2 L451.3,1582.5 L455.3,1582.6Z M381.3,1586.7 L381.9,1588.6 L383.8,1588.9 L382.2,1590 L382.6,1591.9 L381,1590.7 L379.3,1591.6 L380,1589.8 L378.5,1588.4 L380.5,1588.5Z M527.7,1585 L528.8,1588.8 L532.7,1589.3 L529.5,1591.5 L530.2,1595.4 L527.1,1592.9 L523.7,1594.8 L525,1591.1 L522.1,1588.4 L526.1,1588.6Z M667.2,1589.4 L667.7,1591.3 L669.7,1591.6 L668.1,1592.7 L668.4,1594.6 L666.9,1593.4 L665.2,1594.3 L665.8,1592.5 L664.4,1591.1 L666.4,1591.2Z M563,1589.4 L564.7,1595.4 L570.8,1596.1 L565.7,1599.6 L566.9,1605.7 L562,1601.9 L556.6,1604.9 L558.7,1599 L554.2,1594.8 L560.4,1595Z M639.2,1590.7 L640.3,1594.5 L644.2,1595 L640.9,1597.2 L641.7,1601.1 L638.6,1598.6 L635.1,1600.5 L636.5,1596.8 L633.6,1594.1 L637.5,1594.3Z M496.9,1597.6 L497.4,1599.5 L499.4,1599.7 L497.7,1600.8 L498.1,1602.7 L496.6,1601.5 L494.8,1602.5 L495.5,1600.6 L494.1,1599.3 L496,1599.3Z M415.7,1604.3 L416.8,1608.1 L420.7,1608.5 L417.5,1610.7 L418.2,1614.6 L415.1,1612.2 L411.6,1614.1 L413,1610.4 L410.1,1607.7 L414.1,1607.8Z M465.4,1605.1 L466.4,1608.9 L470.4,1609.4 L467.1,1611.6 L467.8,1615.4 L464.7,1613 L461.3,1614.9 L462.6,1611.2 L459.7,1608.5 L463.7,1608.7Z M478.7,1605.1 L479.7,1608.9 L483.7,1609.4 L480.4,1611.6 L481.1,1615.4 L478,1613 L474.6,1614.9 L475.9,1611.2 L473,1608.5 L477,1608.7Z M598,1603.4 L599.1,1607.2 L603,1607.7 L599.7,1609.9 L600.5,1613.8 L597.4,1611.4 L593.9,1613.3 L595.3,1609.6 L592.4,1606.9 L596.3,1607Z M509.8,1619.2 L510.9,1623 L514.8,1623.5 L511.6,1625.7 L512.3,1629.5 L509.2,1627.1 L505.8,1629 L507.1,1625.3 L504.2,1622.6 L508.2,1622.8Z M544.6,1617.8 L545.6,1621.6 L549.6,1622.1 L546.3,1624.3 L547,1628.2 L543.9,1625.8 L540.5,1627.7 L541.8,1624 L538.9,1621.3 L542.9,1621.4Z M535.4,1623.3 L535.9,1625.2 L537.9,1625.5 L536.2,1626.6 L536.6,1628.5 L535.1,1627.3 L533.3,1628.2 L534,1626.4 L532.6,1625 L534.5,1625.1Z M608.6,1621.4 L609.2,1623.3 L611.1,1623.6 L609.5,1624.7 L609.9,1626.6 L608.3,1625.4 L606.6,1626.3 L607.2,1624.5 L605.8,1623.1 L607.8,1623.2Z M394.8,1620.5 L395.9,1624.3 L399.8,1624.8 L396.6,1627 L397.3,1630.9 L394.2,1628.5 L390.8,1630.4 L392.1,1626.7 L389.2,1624 L393.2,1624.1Z M651.1,1621.9 L652.2,1625.7 L656.1,1626.2 L652.9,1628.4 L653.6,1632.3 L650.5,1629.8 L647.1,1631.7 L648.4,1628 L645.5,1625.3 L649.5,1625.5Z M438.2,1626.8 L439.3,1630.6 L443.2,1631.1 L440,1633.3 L440.7,1637.1 L437.6,1634.7 L434.1,1636.6 L435.5,1632.9 L432.6,1630.2 L436.6,1630.3Z M576.6,1636.9 L577.2,1638.8 L579.1,1639 L577.5,1640.1 L577.8,1642.1 L576.3,1640.9 L574.6,1641.8 L575.2,1640 L573.8,1638.6 L575.8,1638.7Z M405.4,1636.5 L406.5,1640.3 L410.4,1640.8 L407.1,1643 L407.9,1646.9 L404.8,1644.5 L401.3,1646.4 L402.7,1642.7 L399.8,1640 L403.7,1640.1Z M478.9,1639.6 L480.6,1645.6 L486.8,1646.3 L481.6,1649.8 L482.8,1655.9 L477.9,1652 L472.5,1655 L474.6,1649.2 L470.1,1645 L476.3,1645.2Z M564.3,1638.5 L566,1644.5 L572.2,1645.2 L567.1,1648.7 L568.2,1654.8 L563.3,1651 L557.9,1654 L560,1648.1 L555.5,1643.9 L561.7,1644.1Z M538.1,1648.6 L538.6,1650.4 L540.6,1650.7 L539,1651.8 L539.3,1653.7 L537.8,1652.5 L536.1,1653.5 L536.7,1651.6 L535.3,1650.3 L537.3,1650.3Z M311.6,1645 L312.2,1646.9 L314.1,1647.2 L312.5,1648.3 L312.9,1650.2 L311.3,1649 L309.6,1649.9 L310.3,1648.1 L308.8,1646.7 L310.8,1646.8Z M518,1650.4 L519.1,1654.2 L523,1654.7 L519.7,1656.9 L520.5,1660.7 L517.3,1658.3 L513.9,1660.2 L515.2,1656.5 L512.4,1653.8 L516.3,1653.9Z M609.7,1649.6 L610.7,1653.4 L614.7,1653.8 L611.4,1656 L612.1,1659.9 L609,1657.5 L605.6,1659.4 L606.9,1655.7 L604,1653 L608,1653.1Z M439.6,1654 L440.2,1655.9 L442.1,1656.1 L440.5,1657.2 L440.9,1659.2 L439.3,1657.9 L437.6,1658.9 L438.3,1657 L436.8,1655.7 L438.8,1655.8Z M635.1,1654.5 L636.8,1660.5 L643,1661.2 L637.8,1664.7 L639,1670.8 L634.1,1667 L628.7,1670 L630.8,1664.1 L626.3,1659.9 L632.5,1660.1Z M666.4,1657.2 L666.9,1659.1 L668.9,1659.4 L667.2,1660.5 L667.6,1662.4 L666.1,1661.2 L664.3,1662.1 L665,1660.3 L663.6,1658.9 L665.5,1659Z M328.9,1658.5 L330,1662.3 L333.9,1662.8 L330.7,1665 L331.4,1668.9 L328.3,1666.4 L324.8,1668.3 L326.2,1664.6 L323.3,1661.9 L327.3,1662.1Z M485.8,1664.8 L486.3,1666.7 L488.3,1667 L486.6,1668.1 L487,1670 L485.4,1668.8 L483.7,1669.7 L484.4,1667.9 L482.9,1666.5 L484.9,1666.6Z M449.4,1667.3 L449.9,1669.2 L451.9,1669.4 L450.3,1670.5 L450.6,1672.4 L449.1,1671.2 L447.4,1672.2 L448,1670.3 L446.6,1669 L448.6,1669.1Z M311.3,1672.1 L312.4,1675.9 L316.3,1676.4 L313,1678.6 L313.8,1682.4 L310.7,1680 L307.2,1681.9 L308.6,1678.2 L305.7,1675.5 L309.6,1675.6Z M354.5,1685.2 L355,1687.1 L357,1687.3 L355.3,1688.4 L355.7,1690.3 L354.2,1689.1 L352.4,1690.1 L353.1,1688.2 L351.7,1686.9 L353.6,1687Z M360.4,1689.8 L361,1691.7 L362.9,1691.9 L361.3,1693 L361.7,1695 L360.1,1693.7 L358.4,1694.7 L359.1,1692.8 L357.6,1691.5 L359.6,1691.6Z M385.4,1686.4 L386.4,1690.2 L390.4,1690.7 L387.1,1692.9 L387.8,1696.8 L384.7,1694.4 L381.3,1696.3 L382.6,1692.6 L379.7,1689.9 L383.7,1690Z M329.2,1689.2 L330.9,1695.2 L337,1696 L331.9,1699.4 L333.1,1705.5 L328.2,1701.7 L322.8,1704.7 L324.9,1698.9 L320.4,1694.6 L326.6,1694.8Z M413.1,1708.2 L413.6,1710.1 L415.6,1710.4 L413.9,1711.5 L414.3,1713.4 L412.7,1712.2 L411,1713.1 L411.7,1711.3 L410.3,1709.9 L412.2,1710Z M368.8,1712.2 L369.9,1716 L373.8,1716.5 L370.5,1718.7 L371.3,1722.6 L368.2,1720.1 L364.7,1722 L366.1,1718.3 L363.2,1715.6 L367.1,1715.8Z M337.4,1727.7 L337.9,1729.6 L339.9,1729.9 L338.3,1731 L338.6,1732.9 L337.1,1731.7 L335.3,1732.7 L336,1730.8 L334.6,1729.5 L336.6,1729.5Z" fill="#fff"/>
<path d="M251.2,1782.1 L481.7,1710.5 L751.6,1738.7 L751.6,1777.2 L520.5,1881.1 L252.5,1822.8 Z" fill="#fff" stroke="#fff" stroke-width="5" stroke-linejoin="round"/>
<path d="M251.2,1782.1 Q386,1792.4 519.7,1829 L520.5,1881.1 L252.5,1822.8 Z" fill="#fafafa"/>
<path d="M519.7,1829 L751.6,1738.7 L751.6,1777.2 L520.5,1881.1 Z" fill="#fafafa"/>
<path d="M251.2,1782.1 L481.7,1710.5 L657.8,1706.1 L657.8,1767.4 L519.7,1829 Q386,1792.4 251.2,1782.1 Z" fill="#ec1c24"/>
<path d="M519.7,1829 L657.8,1767.4 L664.8,1763.6 L681.1,1754.4 L721.8,1738.1 L753.8,1722.4 L752.4,1739.2 Z" fill="#fff"/>
<path d="M250.4,1782.1 L253.4,1782.1 L254.1,1823.3 L250.9,1823.3 Z" fill="#6b6b6b"/>
<path d="M250.9,1820 L518.3,1877.5 L520.5,1886.5 L250.9,1825.5 Z" fill="#6b6b6b"/>
<path d="M520.5,1879.2 L753,1773.9 L753,1779.4 L520.5,1886.5 Z" fill="#6b6b6b"/>
<line x1="751.6" y1="1740" x2="751.6" y2="1778" stroke="#6b6b6b" stroke-width="2.6" stroke-linecap="butt"/>
<ellipse cx="519.2" cy="1853.9" rx="3.6" ry="26" fill="#6b6b6b"/>
<path d="M434.3,1718.3 C436.1,1716.8 440.1,1712.2 445.1,1709.4 C450.1,1706.5 456.4,1704.4 464.1,1701.2 C471.8,1698.1 483.5,1694 491.2,1690.4 C498.9,1686.8 505.7,1682.5 510.2,1679.5 C514.7,1676.6 514.7,1673.8 518.3,1672.8 C522,1671.8 525.1,1673.2 531.9,1673.6 C538.7,1674 550,1674.4 559,1675.2 C568.1,1676 578.5,1676.2 586.2,1678.2 C593.8,1680.2 599.3,1684.2 605.1,1687.1 C611,1690.1 618.2,1693 621.4,1695.8 C624.7,1698.6 628.3,1700.3 624.7,1704 C621,1707.6 608.4,1713 599.7,1717.5 C591,1722 578.9,1726.6 572.6,1731.1 C566.3,1735.6 565.1,1741 561.7,1744.6 C558.4,1748.3 555.4,1752 552.2,1752.8 C549.1,1753.6 545.7,1751.3 542.8,1749.5 C539.8,1747.7 538.7,1743.7 534.6,1741.9 C530.6,1740.1 525.6,1740 518.3,1738.7 C511.1,1737.3 500.3,1735.5 491.2,1733.8 C482.2,1732.1 472.2,1729.6 464.1,1728.4 C456,1727.1 447.4,1727.9 442.4,1726.2 C437.4,1724.5 435.6,1719.6 434.3,1718.3 Z" fill="#fff" stroke="#fff" stroke-width="2.5" stroke-linejoin="round"/>
<path d="M559,1736.5 C561.3,1734.2 565.8,1727.9 572.6,1722.9 C579.4,1718 590.7,1711.2 599.7,1706.7 C608.8,1702.2 619.6,1698.4 626.8,1695.8 C634.1,1693.3 636.3,1691.5 643.1,1691.5 C649.9,1691.5 658.9,1694.2 667.5,1695.8 C676.1,1697.5 685.6,1699 694.6,1701.2 C703.7,1703.5 713.6,1706.7 721.8,1709.4 C729.9,1712.1 738.1,1715.3 743.5,1717.5 C748.8,1719.8 753.3,1720.7 753.8,1722.9 C754.2,1725.2 751.5,1728.4 746.2,1731.1 C740.8,1733.8 730.4,1736.5 721.8,1739.2 C713.2,1741.9 701.4,1744.6 694.6,1747.4 C687.9,1750.1 684.2,1752.8 681.1,1755.5 C677.9,1758.2 678.4,1762 675.7,1763.6 C672.9,1765.3 668.4,1766.2 664.8,1765.3 C661.2,1764.4 660.3,1760.3 654,1758.2 C647.6,1756.1 635.9,1755 626.8,1752.8 C617.8,1750.5 608.8,1746.5 599.7,1744.6 C590.7,1742.8 579.4,1743.3 572.6,1741.9 C565.8,1740.6 561.3,1737.4 559,1736.5 Z" fill="#fff" stroke="#fff" stroke-width="2.5" stroke-linejoin="round"/>
<path d="M445.1,1729.2 C452.8,1730.4 477.7,1734.4 491.2,1736.5 C504.8,1738.6 517.9,1739.3 526.5,1741.9 C535.1,1744.6 538,1751.2 542.8,1752.2 C547.5,1753.3 552.9,1748.8 555,1748.2" fill="none" stroke="#6b6b6b" stroke-width="1" stroke-linecap="round" stroke-linejoin="round" />
<path d="M569.9,1744.1 C577.1,1745.2 599.7,1748.2 613.3,1750.9 C626.8,1753.6 642.4,1757.7 651.2,1760.4 C660.1,1763.1 661.6,1766.8 666.2,1767.2 C670.7,1767.5 676.3,1763.3 678.4,1762.5" fill="none" stroke="#6b6b6b" stroke-width="1" stroke-linecap="round" stroke-linejoin="round" />
<path d="M521.1,1674.9 C529.6,1675.3 557.7,1674.4 572.6,1676.8 C587.5,1679.3 601.5,1685.7 610.6,1689.9 C619.6,1694.1 624.1,1700 626.8,1702.1" fill="none" stroke="#6b6b6b" stroke-width="1" stroke-linecap="round" stroke-linejoin="round" />
<path d="M702.8,1704.8 C707.3,1706.1 722.2,1710.2 729.9,1712.9 C737.6,1715.6 745.7,1719.7 748.9,1721" fill="none" stroke="#6b6b6b" stroke-width="1" stroke-linecap="round" stroke-linejoin="round" />
<path d="M558.5,1722.9 Q569.9,1702.1 605.1,1702.1 Q578,1707.5 558.5,1722.9 Z" fill="#6b6b6b"/>
<path d="M681.1,1742.7 Q693.3,1721.9 729.4,1722.4 Q701.4,1727.8 681.1,1742.7 Z" fill="#6b6b6b"/>
<path d="M736.4,1742.2 L750.8,1736.8 L748.9,1739.2 Z" fill="#ec1c24"/>
<path d="M281,1835.5 L247.1,1843.9 L262,1866.7" fill="none" stroke="#ec1c24" stroke-width="4.4" stroke-linecap="round" stroke-linejoin="round" />
<path d="M247.1,1843.9 L521.1,1910.1 L762.4,1791.6" fill="none" stroke="#ec1c24" stroke-width="5.2" stroke-linecap="round" stroke-linejoin="round" stroke-linejoin="miter"/>
<path d="M733.4,1791.6 L762.4,1791.6 L752.4,1822.2" fill="none" stroke="#ec1c24" stroke-width="4.4" stroke-linecap="round" stroke-linejoin="round" />
</svg>
</body></html>
